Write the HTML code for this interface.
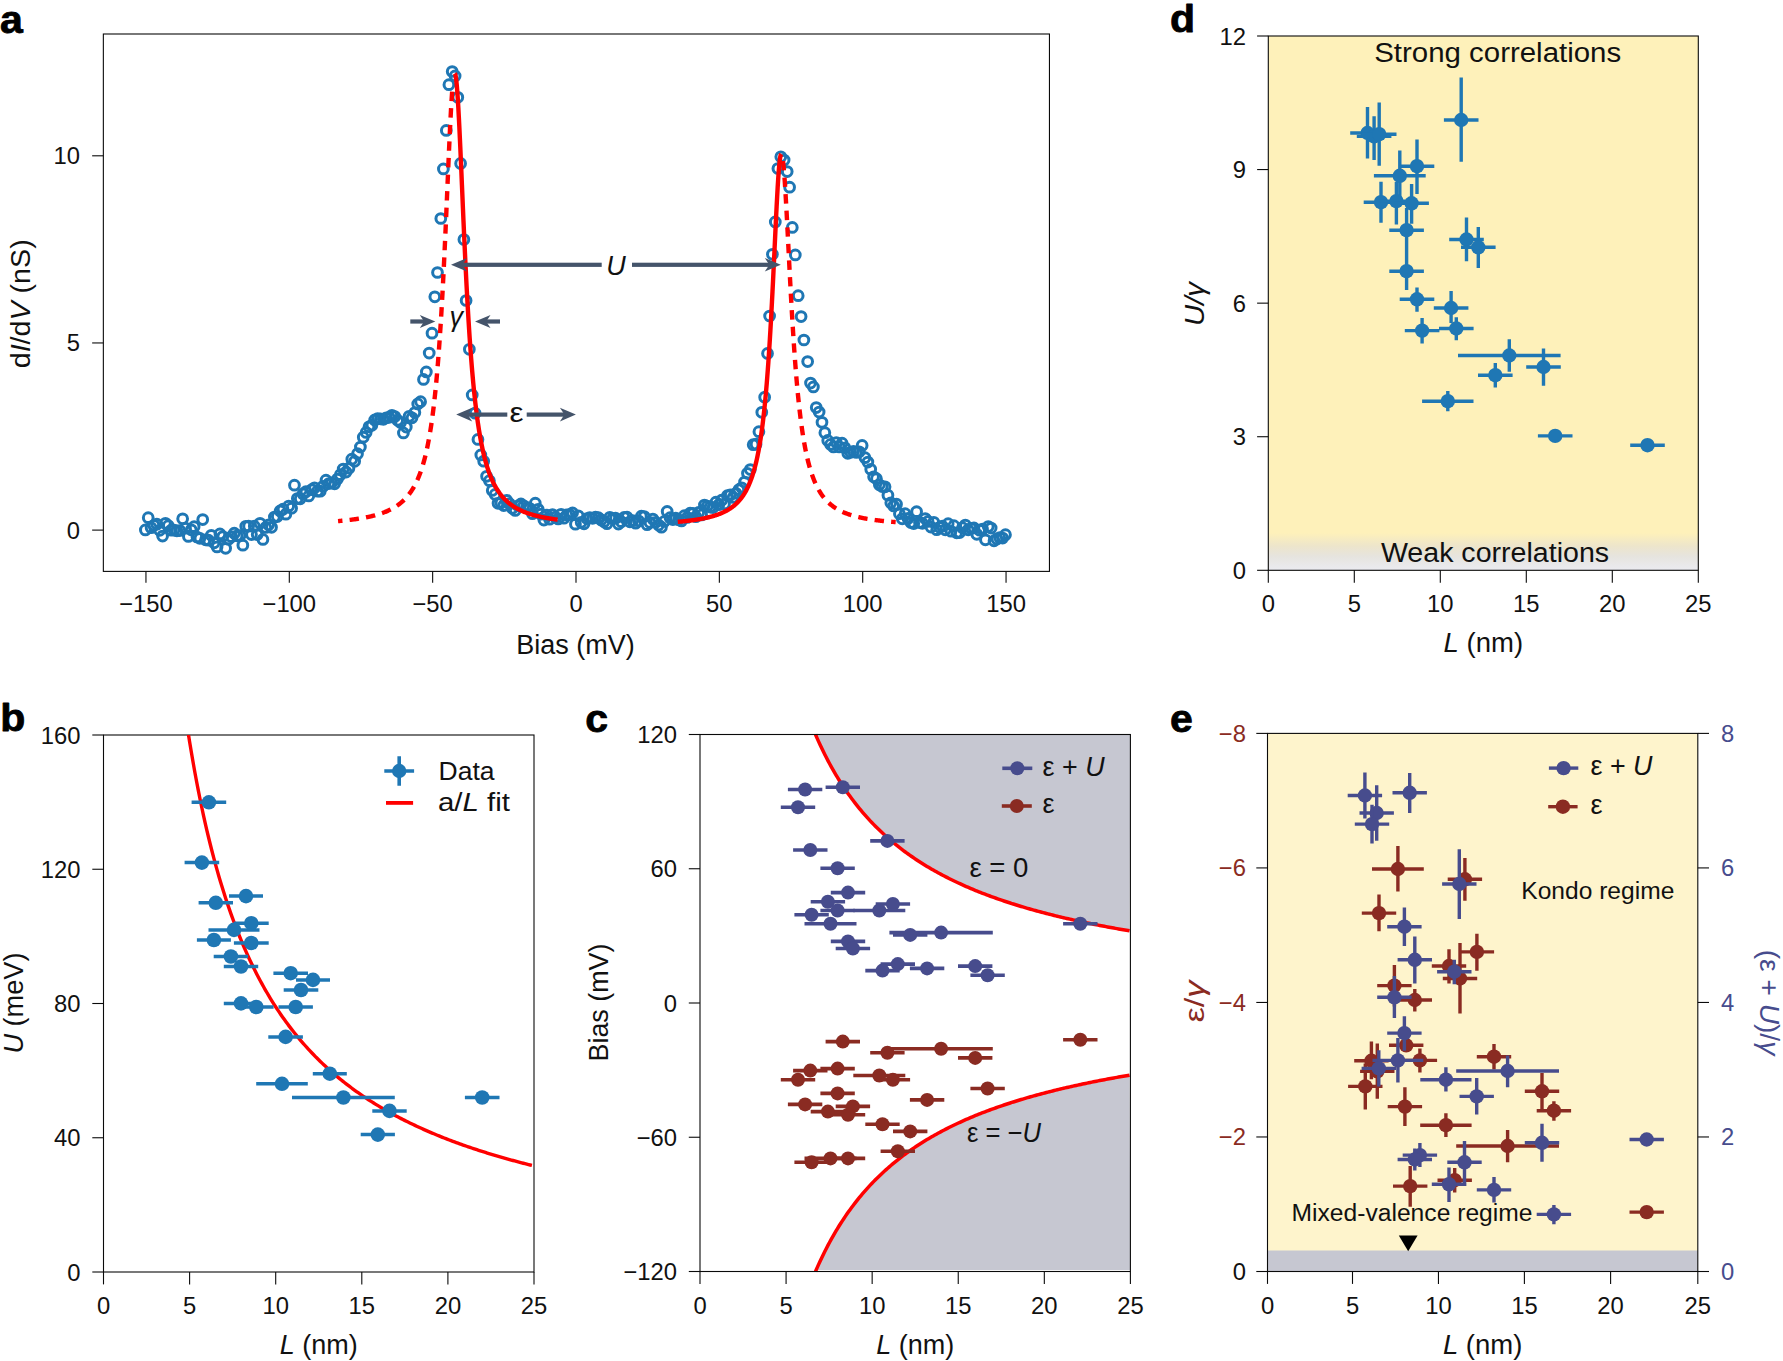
<!DOCTYPE html>
<html lang="en"><head><meta charset="utf-8"><title>Figure</title>
<style>html,body{margin:0;padding:0;background:#fff}svg{display:block}text{font-family:"Liberation Sans", "DejaVu Sans", sans-serif}</style>
</head><body>
<svg width="1783" height="1361" viewBox="0 0 1783 1361">
<rect width="1783" height="1361" fill="#fff"/>
<defs>
<linearGradient id="gd" x1="0" y1="0" x2="0" y2="1"><stop offset="0" stop-color="#fef1ba"/><stop offset="0.35" stop-color="#ede5cb"/><stop offset="0.62" stop-color="#e6e4de"/><stop offset="1" stop-color="#ebebf1"/></linearGradient>
</defs>
<rect x="103.35" y="34" width="946.1" height="537.4" fill="#fff" stroke="#0a0a0a" stroke-width="1.1"/>
<g fill="none" stroke="#1f77b4" stroke-width="3.0">
<circle cx="145.38" cy="529.94" r="4.87"/>
<circle cx="148.24" cy="517.64" r="4.87"/>
<circle cx="151.11" cy="527.73" r="4.87"/>
<circle cx="153.98" cy="525.36" r="4.87"/>
<circle cx="156.84" cy="524.2" r="4.87"/>
<circle cx="159.71" cy="530.33" r="4.87"/>
<circle cx="162.58" cy="536.04" r="4.87"/>
<circle cx="165.45" cy="523.27" r="4.87"/>
<circle cx="168.31" cy="525.64" r="4.87"/>
<circle cx="171.18" cy="530.22" r="4.87"/>
<circle cx="174.05" cy="530.06" r="4.87"/>
<circle cx="176.91" cy="530.83" r="4.87"/>
<circle cx="179.78" cy="530.52" r="4.87"/>
<circle cx="182.65" cy="518.87" r="4.87"/>
<circle cx="185.51" cy="528.17" r="4.87"/>
<circle cx="188.38" cy="536.48" r="4.87"/>
<circle cx="191.25" cy="529.85" r="4.87"/>
<circle cx="194.12" cy="526.74" r="4.87"/>
<circle cx="196.98" cy="537" r="4.87"/>
<circle cx="199.85" cy="538.31" r="4.87"/>
<circle cx="202.72" cy="519.62" r="4.87"/>
<circle cx="205.58" cy="539.8" r="4.87"/>
<circle cx="208.45" cy="540.14" r="4.87"/>
<circle cx="211.32" cy="535.33" r="4.87"/>
<circle cx="214.18" cy="542.79" r="4.87"/>
<circle cx="217.05" cy="546.94" r="4.87"/>
<circle cx="219.92" cy="533.88" r="4.87"/>
<circle cx="222.79" cy="536.61" r="4.87"/>
<circle cx="225.65" cy="548.27" r="4.87"/>
<circle cx="228.52" cy="539.15" r="4.87"/>
<circle cx="231.39" cy="536.73" r="4.87"/>
<circle cx="234.25" cy="533.17" r="4.87"/>
<circle cx="237.12" cy="535.84" r="4.87"/>
<circle cx="239.99" cy="535.59" r="4.87"/>
<circle cx="242.85" cy="545.24" r="4.87"/>
<circle cx="245.72" cy="526.37" r="4.87"/>
<circle cx="248.59" cy="526.19" r="4.87"/>
<circle cx="251.46" cy="534.55" r="4.87"/>
<circle cx="254.32" cy="526.16" r="4.87"/>
<circle cx="257.19" cy="534.55" r="4.87"/>
<circle cx="260.06" cy="523.33" r="4.87"/>
<circle cx="262.92" cy="539.45" r="4.87"/>
<circle cx="265.79" cy="527.49" r="4.87"/>
<circle cx="268.66" cy="524.79" r="4.87"/>
<circle cx="271.52" cy="527.36" r="4.87"/>
<circle cx="274.39" cy="517.05" r="4.87"/>
<circle cx="277.26" cy="516.59" r="4.87"/>
<circle cx="280.13" cy="510.94" r="4.87"/>
<circle cx="282.99" cy="509.2" r="4.87"/>
<circle cx="285.86" cy="514.25" r="4.87"/>
<circle cx="288.73" cy="506.02" r="4.87"/>
<circle cx="291.59" cy="508.23" r="4.87"/>
<circle cx="294.46" cy="485.18" r="4.87"/>
<circle cx="297.33" cy="498.59" r="4.87"/>
<circle cx="300.19" cy="498.87" r="4.87"/>
<circle cx="303.06" cy="493.92" r="4.87"/>
<circle cx="305.93" cy="491.63" r="4.87"/>
<circle cx="308.8" cy="495.96" r="4.87"/>
<circle cx="311.66" cy="489.74" r="4.87"/>
<circle cx="314.53" cy="487.84" r="4.87"/>
<circle cx="317.4" cy="491.24" r="4.87"/>
<circle cx="320.26" cy="491.15" r="4.87"/>
<circle cx="323.13" cy="486.37" r="4.87"/>
<circle cx="326" cy="480.24" r="4.87"/>
<circle cx="328.86" cy="483.54" r="4.87"/>
<circle cx="331.73" cy="482.79" r="4.87"/>
<circle cx="334.6" cy="483.81" r="4.87"/>
<circle cx="337.47" cy="479.06" r="4.87"/>
<circle cx="340.33" cy="474.64" r="4.87"/>
<circle cx="343.2" cy="469.1" r="4.87"/>
<circle cx="346.07" cy="472.08" r="4.87"/>
<circle cx="348.93" cy="468.22" r="4.87"/>
<circle cx="351.8" cy="459.15" r="4.87"/>
<circle cx="354.67" cy="461.31" r="4.87"/>
<circle cx="357.53" cy="453.72" r="4.87"/>
<circle cx="360.4" cy="447.01" r="4.87"/>
<circle cx="363.27" cy="437.24" r="4.87"/>
<circle cx="366.14" cy="432.39" r="4.87"/>
<circle cx="369" cy="426.8" r="4.87"/>
<circle cx="371.87" cy="425.15" r="4.87"/>
<circle cx="374.74" cy="419.96" r="4.87"/>
<circle cx="377.6" cy="418.65" r="4.87"/>
<circle cx="380.47" cy="418.79" r="4.87"/>
<circle cx="383.34" cy="419.31" r="4.87"/>
<circle cx="386.2" cy="417.87" r="4.87"/>
<circle cx="389.07" cy="417.36" r="4.87"/>
<circle cx="391.94" cy="415.33" r="4.87"/>
<circle cx="394.81" cy="416.59" r="4.87"/>
<circle cx="397.67" cy="420.26" r="4.87"/>
<circle cx="400.54" cy="422.51" r="4.87"/>
<circle cx="403.41" cy="432.92" r="4.87"/>
<circle cx="406.27" cy="427.03" r="4.87"/>
<circle cx="409.14" cy="416.29" r="4.87"/>
<circle cx="412.01" cy="417.82" r="4.87"/>
<circle cx="414.87" cy="412.56" r="4.87"/>
<circle cx="417.74" cy="403.92" r="4.87"/>
<circle cx="420.61" cy="401.7" r="4.87"/>
<circle cx="423.48" cy="379.39" r="4.87"/>
<circle cx="426.34" cy="371.88" r="4.87"/>
<circle cx="429.21" cy="353.1" r="4.87"/>
<circle cx="432" cy="333.2" r="4.87"/>
<circle cx="434.8" cy="296.8" r="4.87"/>
<circle cx="437.5" cy="272.5" r="4.87"/>
<circle cx="440.8" cy="218.5" r="4.87"/>
<circle cx="443.4" cy="168.9" r="4.87"/>
<circle cx="446.3" cy="130.4" r="4.87"/>
<circle cx="448.9" cy="84.7" r="4.87"/>
<circle cx="452.2" cy="71.5" r="4.87"/>
<circle cx="455.1" cy="75.9" r="4.87"/>
<circle cx="457.8" cy="97.3" r="4.87"/>
<circle cx="460.6" cy="163.4" r="4.87"/>
<circle cx="463.9" cy="239.5" r="4.87"/>
<circle cx="466.1" cy="300.5" r="4.87"/>
<circle cx="469.35" cy="349.31" r="4.87"/>
<circle cx="472.21" cy="394.98" r="4.87"/>
<circle cx="475.08" cy="413.18" r="4.87"/>
<circle cx="477.95" cy="439.49" r="4.87"/>
<circle cx="480.82" cy="454.92" r="4.87"/>
<circle cx="483.68" cy="461.18" r="4.87"/>
<circle cx="486.55" cy="476.33" r="4.87"/>
<circle cx="489.42" cy="480.63" r="4.87"/>
<circle cx="492.28" cy="490.49" r="4.87"/>
<circle cx="495.15" cy="494.43" r="4.87"/>
<circle cx="498.02" cy="503.33" r="4.87"/>
<circle cx="500.88" cy="502.92" r="4.87"/>
<circle cx="503.75" cy="505.57" r="4.87"/>
<circle cx="506.62" cy="500.35" r="4.87"/>
<circle cx="509.49" cy="503.65" r="4.87"/>
<circle cx="512.35" cy="508.3" r="4.87"/>
<circle cx="515.22" cy="510.47" r="4.87"/>
<circle cx="518.09" cy="505.84" r="4.87"/>
<circle cx="520.95" cy="503.94" r="4.87"/>
<circle cx="523.82" cy="505.85" r="4.87"/>
<circle cx="526.69" cy="507.5" r="4.87"/>
<circle cx="529.55" cy="508.35" r="4.87"/>
<circle cx="532.42" cy="513.7" r="4.87"/>
<circle cx="535.29" cy="503.15" r="4.87"/>
<circle cx="538.16" cy="509.36" r="4.87"/>
<circle cx="541.02" cy="514.21" r="4.87"/>
<circle cx="543.89" cy="520.01" r="4.87"/>
<circle cx="546.76" cy="515.01" r="4.87"/>
<circle cx="549.62" cy="519.2" r="4.87"/>
<circle cx="552.49" cy="514.56" r="4.87"/>
<circle cx="555.36" cy="517.17" r="4.87"/>
<circle cx="558.22" cy="518.97" r="4.87"/>
<circle cx="561.09" cy="514.31" r="4.87"/>
<circle cx="563.96" cy="518.14" r="4.87"/>
<circle cx="566.83" cy="514.96" r="4.87"/>
<circle cx="569.69" cy="514.58" r="4.87"/>
<circle cx="572.56" cy="512.91" r="4.87"/>
<circle cx="575.43" cy="524.2" r="4.87"/>
<circle cx="578.29" cy="515.78" r="4.87"/>
<circle cx="581.16" cy="522.37" r="4.87"/>
<circle cx="584.03" cy="523.8" r="4.87"/>
<circle cx="586.89" cy="518.59" r="4.87"/>
<circle cx="589.76" cy="517.68" r="4.87"/>
<circle cx="592.63" cy="518.34" r="4.87"/>
<circle cx="595.5" cy="517.13" r="4.87"/>
<circle cx="598.36" cy="517.68" r="4.87"/>
<circle cx="601.23" cy="519.91" r="4.87"/>
<circle cx="604.1" cy="521.75" r="4.87"/>
<circle cx="606.96" cy="523.63" r="4.87"/>
<circle cx="609.83" cy="517.33" r="4.87"/>
<circle cx="612.7" cy="518.59" r="4.87"/>
<circle cx="615.56" cy="518.19" r="4.87"/>
<circle cx="618.43" cy="524.08" r="4.87"/>
<circle cx="621.3" cy="521.67" r="4.87"/>
<circle cx="624.17" cy="517.46" r="4.87"/>
<circle cx="627.03" cy="517.17" r="4.87"/>
<circle cx="629.9" cy="521.79" r="4.87"/>
<circle cx="632.77" cy="520.63" r="4.87"/>
<circle cx="635.63" cy="523.19" r="4.87"/>
<circle cx="638.5" cy="520.83" r="4.87"/>
<circle cx="641.37" cy="516.21" r="4.87"/>
<circle cx="644.23" cy="516.51" r="4.87"/>
<circle cx="647.1" cy="524.66" r="4.87"/>
<circle cx="649.97" cy="522.4" r="4.87"/>
<circle cx="652.84" cy="519.03" r="4.87"/>
<circle cx="655.7" cy="522.27" r="4.87"/>
<circle cx="658.57" cy="525.12" r="4.87"/>
<circle cx="661.44" cy="527.15" r="4.87"/>
<circle cx="664.3" cy="521.43" r="4.87"/>
<circle cx="667.17" cy="511.39" r="4.87"/>
<circle cx="670.04" cy="517.72" r="4.87"/>
<circle cx="672.9" cy="519.53" r="4.87"/>
<circle cx="675.77" cy="518.22" r="4.87"/>
<circle cx="678.64" cy="519.8" r="4.87"/>
<circle cx="681.51" cy="520.89" r="4.87"/>
<circle cx="684.37" cy="515.7" r="4.87"/>
<circle cx="687.24" cy="517.4" r="4.87"/>
<circle cx="690.11" cy="513.18" r="4.87"/>
<circle cx="692.97" cy="513.26" r="4.87"/>
<circle cx="695.84" cy="516.69" r="4.87"/>
<circle cx="698.71" cy="512.47" r="4.87"/>
<circle cx="701.57" cy="514.93" r="4.87"/>
<circle cx="704.44" cy="505.01" r="4.87"/>
<circle cx="707.31" cy="506.07" r="4.87"/>
<circle cx="710.18" cy="507.1" r="4.87"/>
<circle cx="713.04" cy="507.62" r="4.87"/>
<circle cx="715.91" cy="502.13" r="4.87"/>
<circle cx="718.78" cy="504.75" r="4.87"/>
<circle cx="721.64" cy="500.18" r="4.87"/>
<circle cx="724.51" cy="503.93" r="4.87"/>
<circle cx="727.38" cy="495.65" r="4.87"/>
<circle cx="730.24" cy="494.96" r="4.87"/>
<circle cx="733.11" cy="497.39" r="4.87"/>
<circle cx="735.98" cy="493.25" r="4.87"/>
<circle cx="738.85" cy="489.67" r="4.87"/>
<circle cx="741.71" cy="487.75" r="4.87"/>
<circle cx="744.58" cy="482" r="4.87"/>
<circle cx="747.45" cy="473.36" r="4.87"/>
<circle cx="750.31" cy="469.56" r="4.87"/>
<circle cx="753.18" cy="444.74" r="4.87"/>
<circle cx="756.05" cy="444.22" r="4.87"/>
<circle cx="758.91" cy="431.69" r="4.87"/>
<circle cx="761.78" cy="412.28" r="4.87"/>
<circle cx="764.65" cy="397.22" r="4.87"/>
<circle cx="767.52" cy="353.43" r="4.87"/>
<circle cx="769.6" cy="316" r="4.87"/>
<circle cx="772.4" cy="254.3" r="4.87"/>
<circle cx="775.3" cy="221.9" r="4.87"/>
<circle cx="777.9" cy="168.5" r="4.87"/>
<circle cx="780.8" cy="156.8" r="4.87"/>
<circle cx="784.1" cy="160.1" r="4.87"/>
<circle cx="787.2" cy="171.6" r="4.87"/>
<circle cx="789.6" cy="187.2" r="4.87"/>
<circle cx="792.3" cy="227.4" r="4.87"/>
<circle cx="795.3" cy="254.9" r="4.87"/>
<circle cx="798.2" cy="295.7" r="4.87"/>
<circle cx="801.1" cy="316.6" r="4.87"/>
<circle cx="803.9" cy="340" r="4.87"/>
<circle cx="807.65" cy="361.56" r="4.87"/>
<circle cx="810.52" cy="383.12" r="4.87"/>
<circle cx="813.39" cy="386.95" r="4.87"/>
<circle cx="816.25" cy="407.51" r="4.87"/>
<circle cx="819.12" cy="412.1" r="4.87"/>
<circle cx="821.99" cy="422.37" r="4.87"/>
<circle cx="824.86" cy="432.65" r="4.87"/>
<circle cx="827.72" cy="440.39" r="4.87"/>
<circle cx="830.59" cy="444.46" r="4.87"/>
<circle cx="833.46" cy="446.93" r="4.87"/>
<circle cx="836.32" cy="442.53" r="4.87"/>
<circle cx="839.19" cy="446.88" r="4.87"/>
<circle cx="842.06" cy="443.13" r="4.87"/>
<circle cx="844.92" cy="447.84" r="4.87"/>
<circle cx="847.79" cy="453.28" r="4.87"/>
<circle cx="850.66" cy="452.29" r="4.87"/>
<circle cx="853.53" cy="451.46" r="4.87"/>
<circle cx="856.39" cy="452.46" r="4.87"/>
<circle cx="859.26" cy="451.82" r="4.87"/>
<circle cx="862.13" cy="445.38" r="4.87"/>
<circle cx="864.99" cy="457.66" r="4.87"/>
<circle cx="867.86" cy="462.09" r="4.87"/>
<circle cx="870.73" cy="469.35" r="4.87"/>
<circle cx="873.59" cy="476.87" r="4.87"/>
<circle cx="876.46" cy="478.71" r="4.87"/>
<circle cx="879.33" cy="484.82" r="4.87"/>
<circle cx="882.2" cy="486.51" r="4.87"/>
<circle cx="885.06" cy="486.82" r="4.87"/>
<circle cx="887.93" cy="495.13" r="4.87"/>
<circle cx="890.8" cy="502.78" r="4.87"/>
<circle cx="893.66" cy="505.97" r="4.87"/>
<circle cx="896.53" cy="504.13" r="4.87"/>
<circle cx="899.4" cy="513.75" r="4.87"/>
<circle cx="902.26" cy="518.87" r="4.87"/>
<circle cx="905.13" cy="513.64" r="4.87"/>
<circle cx="908" cy="518.42" r="4.87"/>
<circle cx="910.87" cy="522.62" r="4.87"/>
<circle cx="913.73" cy="523.61" r="4.87"/>
<circle cx="916.6" cy="511.64" r="4.87"/>
<circle cx="919.47" cy="522.61" r="4.87"/>
<circle cx="922.33" cy="523.33" r="4.87"/>
<circle cx="925.2" cy="518.6" r="4.87"/>
<circle cx="928.07" cy="521.38" r="4.87"/>
<circle cx="930.93" cy="527.05" r="4.87"/>
<circle cx="933.8" cy="522.33" r="4.87"/>
<circle cx="936.67" cy="529.73" r="4.87"/>
<circle cx="939.54" cy="527.35" r="4.87"/>
<circle cx="942.4" cy="526.22" r="4.87"/>
<circle cx="945.27" cy="529.78" r="4.87"/>
<circle cx="948.14" cy="523.73" r="4.87"/>
<circle cx="951" cy="531.25" r="4.87"/>
<circle cx="953.87" cy="525.74" r="4.87"/>
<circle cx="956.74" cy="532.81" r="4.87"/>
<circle cx="959.6" cy="532.62" r="4.87"/>
<circle cx="962.47" cy="527.71" r="4.87"/>
<circle cx="965.34" cy="525.06" r="4.87"/>
<circle cx="968.21" cy="529.79" r="4.87"/>
<circle cx="971.07" cy="528.26" r="4.87"/>
<circle cx="973.94" cy="527.99" r="4.87"/>
<circle cx="976.81" cy="534.35" r="4.87"/>
<circle cx="979.67" cy="530.14" r="4.87"/>
<circle cx="982.54" cy="529.15" r="4.87"/>
<circle cx="985.41" cy="539.83" r="4.87"/>
<circle cx="988.27" cy="526.56" r="4.87"/>
<circle cx="991.14" cy="528.02" r="4.87"/>
<circle cx="994.01" cy="540.84" r="4.87"/>
<circle cx="996.88" cy="538.98" r="4.87"/>
<circle cx="999.74" cy="537.68" r="4.87"/>
<circle cx="1002.61" cy="538.04" r="4.87"/>
<circle cx="1005.48" cy="534.74" r="4.87"/>
</g>
<polyline points="452.15,91.64 451.58,100.05 451,109.71 450.43,120.44 449.86,132.04 449.29,144.32 448.72,157.09 448.15,170.18 447.58,183.45 447.01,196.74 446.44,209.95 445.87,222.98 445.3,235.74 444.73,248.17 444.16,260.22 443.59,271.86 443.02,283.06 442.45,293.8 441.88,304.09 441.31,313.91 440.73,323.27 440.16,332.18 439.59,340.66 439.02,348.71 438.45,356.35 437.88,363.61 437.31,370.49 436.74,377.01 436.17,383.2 435.6,389.06 435.03,394.62 434.46,399.89 433.89,404.89 433.32,409.63 432.75,414.13 432.18,418.4 431.61,422.45 431.04,426.31 430.47,429.97 429.89,433.45 429.32,436.76 428.75,439.91 428.18,442.91 427.61,445.76 427.04,448.49 426.47,451.08 425.9,453.56 425.33,455.92 424.76,458.18 424.19,460.33 423.62,462.39 423.05,464.36 422.48,466.25 421.91,468.06 421.34,469.78 420.77,471.44 420.2,473.03 419.63,474.55 419.05,476.01 418.48,477.41 417.91,478.76 417.34,480.06 416.77,481.3 416.2,482.5 415.63,483.65 415.06,484.76 414.49,485.82 413.92,486.85 413.35,487.84 412.78,488.79 412.21,489.71 411.64,490.6 411.07,491.46 410.5,492.29 409.93,493.09 409.36,493.86 408.79,494.6 408.21,495.32 407.64,496.02 407.07,496.7 406.5,497.35 405.93,497.98 405.36,498.59 404.79,499.19 404.22,499.76 403.65,500.32 403.08,500.86 402.51,501.38 401.94,501.89 401.37,502.38 400.8,502.86 400.23,503.33 399.66,503.78 399.09,504.21 398.52,504.64 397.94,505.05 397.37,505.46 396.8,505.85 396.23,506.23 395.66,506.6 395.09,506.96 394.52,507.31 393.95,507.65 393.38,507.98 392.81,508.31 392.24,508.62 391.67,508.93 391.1,509.23 390.53,509.52 389.96,509.8 389.39,510.08 388.82,510.35 388.25,510.62 387.68,510.87 387.1,511.13 386.53,511.37 385.96,511.61 385.39,511.84 384.82,512.07 384.25,512.3 383.68,512.51 383.11,512.73 382.54,512.94 381.97,513.14 381.4,513.34 380.83,513.53 380.26,513.72 379.69,513.91 379.12,514.09 378.55,514.27 377.98,514.44 377.41,514.61 376.84,514.78 376.26,514.94 375.69,515.1 375.12,515.26 374.55,515.42 373.98,515.57 373.41,515.71 372.84,515.86 372.27,516 371.7,516.14 371.13,516.27 370.56,516.41 369.99,516.54 369.42,516.67 368.85,516.79 368.28,516.91 367.71,517.04 367.14,517.15 366.57,517.27 366,517.38 365.42,517.5 364.85,517.61 364.28,517.71 363.71,517.82 363.14,517.92 362.57,518.03 362,518.13 361.43,518.23 360.86,518.32 360.29,518.42 359.72,518.51 359.15,518.6 358.58,518.69 358.01,518.78 357.44,518.87 356.87,518.95 356.3,519.04 355.73,519.12 355.15,519.2 354.58,519.28 354.01,519.36 353.44,519.44 352.87,519.51 352.3,519.59 351.73,519.66 351.16,519.74 350.59,519.81 350.02,519.88 349.45,519.95 348.88,520.01 348.31,520.08 347.74,520.15 347.17,520.21 346.6,520.28 346.03,520.34 345.46,520.4 344.89,520.46 344.31,520.52 343.74,520.58 343.17,520.64 342.6,520.7 342.03,520.75 341.46,520.81 340.89,520.86 340.32,520.92 339.75,520.97 339.18,521.02 338.61,521.07 338.04,521.12" fill="none" stroke="#ff0000" stroke-width="4.4" stroke-dasharray="9.4 7.2"/>
<polyline points="454.73,73.45 455.24,74.21 455.76,76.45 456.27,80.14 456.78,85.2 457.3,91.55 457.81,99.06 458.33,107.6 458.84,117.05 459.36,127.26 459.87,138.07 460.39,149.37 460.9,161.01 461.42,172.87 461.93,184.85 462.45,196.84 462.96,208.76 463.47,220.54 463.99,232.12 464.5,243.43 465.02,254.46 465.53,265.16 466.05,275.51 466.56,285.5 467.08,295.12 467.59,304.36 468.11,313.23 468.62,321.72 469.14,329.85 469.65,337.62 470.16,345.04 470.68,352.12 471.19,358.88 471.71,365.32 472.22,371.46 472.74,377.31 473.25,382.89 473.77,388.21 474.28,393.28 474.8,398.11 475.31,402.71 475.83,407.1 476.34,411.28 476.85,415.28 477.37,419.09 477.88,422.72 478.4,426.19 478.91,429.51 479.43,432.68 479.94,435.7 480.46,438.6 480.97,441.36 481.49,444.01 482,446.55 482.52,448.98 483.03,451.3 483.54,453.53 484.06,455.67 484.57,457.72 485.09,459.69 485.6,461.58 486.12,463.39 486.63,465.13 487.15,466.81 487.66,468.42 488.18,469.97 488.69,471.46 489.21,472.89 489.72,474.27 490.24,475.6 490.75,476.89 491.26,478.12 491.78,479.31 492.29,480.47 492.81,481.58 493.32,482.65 493.84,483.68 494.35,484.68 494.87,485.65 495.38,486.58 495.9,487.49 496.41,488.36 496.93,489.21 497.44,490.02 497.95,490.82 498.47,491.58 498.98,492.33 499.5,493.05 500.01,493.75 500.53,494.42 501.04,495.08 501.56,495.72 502.07,496.34 502.59,496.94 503.1,497.52 503.62,498.09 504.13,498.64 504.64,499.17 505.16,499.69 505.67,500.2 506.19,500.69 506.7,501.16 507.22,501.63 507.73,502.08 508.25,502.52 508.76,502.95 509.28,503.37 509.79,503.77 510.31,504.17 510.82,504.55 511.33,504.93 511.85,505.3 512.36,505.65 512.88,506 513.39,506.34 513.91,506.67 514.42,507 514.94,507.31 515.45,507.62 515.97,507.92 516.48,508.22 517,508.5 517.51,508.78 518.02,509.06 518.54,509.32 519.05,509.59 519.57,509.84 520.08,510.09 520.6,510.33 521.11,510.57 521.63,510.81 522.14,511.04 522.66,511.26 523.17,511.48 523.69,511.69 524.2,511.9 524.72,512.11 525.23,512.31 525.74,512.5 526.26,512.7 526.77,512.89 527.29,513.07 527.8,513.25 528.32,513.43 528.83,513.6 529.35,513.77 529.86,513.94 530.38,514.1 530.89,514.26 531.41,514.42 531.92,514.58 532.43,514.73 532.95,514.88 533.46,515.02 533.98,515.17 534.49,515.31 535.01,515.44 535.52,515.58 536.04,515.71 536.55,515.84 537.07,515.97 537.58,516.1 538.1,516.22 538.61,516.34 539.12,516.46 539.64,516.58 540.15,516.69 540.67,516.81 541.18,516.92 541.7,517.03 542.21,517.13 542.73,517.24 543.24,517.34 543.76,517.44 544.27,517.54 544.79,517.64 545.3,517.74 545.81,517.83 546.33,517.93 546.84,518.02 547.36,518.11 547.87,518.2 548.39,518.29 548.9,518.37 549.42,518.46 549.93,518.54 550.45,518.63 550.96,518.71 551.48,518.79 551.99,518.86 552.5,518.94 553.02,519.02 553.53,519.09 554.05,519.17 554.56,519.24 555.08,519.31 555.59,519.38 556.11,519.45 556.62,519.52 557.14,519.59 557.65,519.65" fill="none" stroke="#ff0000" stroke-width="4.4" stroke-linejoin="round"/>
<polyline points="677.78,521.84 678.3,521.8 678.81,521.75 679.33,521.7 679.85,521.66 680.37,521.61 680.88,521.56 681.4,521.51 681.92,521.46 682.44,521.41 682.95,521.36 683.47,521.31 683.99,521.25 684.51,521.2 685.02,521.14 685.54,521.09 686.06,521.03 686.58,520.97 687.09,520.92 687.61,520.86 688.13,520.8 688.65,520.73 689.16,520.67 689.68,520.61 690.2,520.54 690.72,520.48 691.23,520.41 691.75,520.34 692.27,520.28 692.79,520.21 693.3,520.13 693.82,520.06 694.34,519.99 694.86,519.91 695.37,519.84 695.89,519.76 696.41,519.68 696.93,519.6 697.44,519.52 697.96,519.43 698.48,519.35 699,519.26 699.51,519.17 700.03,519.08 700.55,518.99 701.07,518.9 701.58,518.8 702.1,518.7 702.62,518.61 703.14,518.5 703.65,518.4 704.17,518.3 704.69,518.19 705.21,518.08 705.72,517.97 706.24,517.86 706.76,517.74 707.28,517.62 707.79,517.5 708.31,517.38 708.83,517.25 709.35,517.13 709.86,516.99 710.38,516.86 710.9,516.72 711.42,516.58 711.93,516.44 712.45,516.3 712.97,516.15 713.49,516 714,515.84 714.52,515.68 715.04,515.52 715.56,515.35 716.07,515.18 716.59,515.01 717.11,514.83 717.63,514.65 718.14,514.46 718.66,514.27 719.18,514.07 719.7,513.87 720.21,513.67 720.73,513.46 721.25,513.24 721.77,513.02 722.28,512.8 722.8,512.56 723.32,512.33 723.84,512.08 724.35,511.83 724.87,511.57 725.39,511.31 725.91,511.04 726.42,510.76 726.94,510.48 727.46,510.18 727.98,509.88 728.49,509.57 729.01,509.25 729.53,508.92 730.05,508.59 730.56,508.24 731.08,507.88 731.6,507.52 732.12,507.14 732.63,506.75 733.15,506.35 733.67,505.93 734.19,505.51 734.7,505.07 735.22,504.61 735.74,504.15 736.26,503.67 736.77,503.17 737.29,502.65 737.81,502.12 738.33,501.57 738.84,501.01 739.36,500.42 739.88,499.82 740.4,499.19 740.91,498.54 741.43,497.87 741.95,497.17 742.47,496.45 742.98,495.71 743.5,494.93 744.02,494.13 744.54,493.3 745.05,492.43 745.57,491.53 746.09,490.6 746.61,489.63 747.12,488.62 747.64,487.58 748.16,486.48 748.68,485.35 749.19,484.17 749.71,482.93 750.23,481.65 750.75,480.31 751.26,478.91 751.78,477.46 752.3,475.93 752.82,474.34 753.33,472.68 753.85,470.94 754.37,469.11 754.89,467.21 755.4,465.21 755.92,463.12 756.44,460.92 756.96,458.62 757.47,456.2 757.99,453.67 758.51,451 759.02,448.2 759.54,445.25 760.06,442.15 760.58,438.89 761.09,435.46 761.61,431.84 762.13,428.03 762.65,424.01 763.16,419.78 763.68,415.31 764.2,410.61 764.72,405.64 765.23,400.4 765.75,394.88 766.27,389.06 766.79,382.92 767.3,376.45 767.82,369.65 768.34,362.48 768.86,354.96 769.37,347.06 769.89,338.79 770.41,330.13 770.93,321.11 771.44,311.71 771.96,301.97 772.48,291.9 773,281.55 773.51,270.95 774.03,260.17 774.55,249.28 775.07,238.37 775.58,227.55 776.1,216.94 776.62,206.66 777.14,196.87 777.65,187.72 778.17,179.36 778.69,171.97 779.21,165.68 779.72,160.63 780.24,156.94 780.76,154.69 781.28,153.93" fill="none" stroke="#ff0000" stroke-width="4.4" stroke-linejoin="round"/>
<polyline points="783,161.04 783.56,166.28 784.12,172.78 784.69,180.4 785.25,188.98 785.81,198.35 786.38,208.36 786.94,218.84 787.5,229.63 788.07,240.62 788.63,251.67 789.19,262.68 789.76,273.56 790.32,284.23 790.88,294.65 791.45,304.76 792.01,314.52 792.57,323.93 793.14,332.95 793.7,341.59 794.26,349.84 794.83,357.7 795.39,365.19 795.95,372.3 796.52,379.06 797.08,385.47 797.64,391.55 798.21,397.32 798.77,402.78 799.33,407.96 799.9,412.86 800.46,417.51 801.03,421.92 801.59,426.09 802.15,430.05 802.72,433.8 803.28,437.37 803.84,440.74 804.41,443.95 804.97,447 805.53,449.9 806.1,452.65 806.66,455.27 807.22,457.76 807.79,460.13 808.35,462.39 808.91,464.54 809.48,466.59 810.04,468.55 810.6,470.42 811.17,472.21 811.73,473.91 812.29,475.54 812.86,477.1 813.42,478.59 813.98,480.02 814.55,481.39 815.11,482.7 815.67,483.96 816.24,485.16 816.8,486.32 817.36,487.43 817.93,488.5 818.49,489.52 819.05,490.51 819.62,491.46 820.18,492.37 820.74,493.25 821.31,494.09 821.87,494.91 822.43,495.69 823,496.45 823.56,497.18 824.12,497.88 824.69,498.56 825.25,499.22 825.81,499.85 826.38,500.46 826.94,501.05 827.5,501.63 828.07,502.18 828.63,502.72 829.19,503.23 829.76,503.74 830.32,504.22 830.88,504.69 831.45,505.15 832.01,505.59 832.57,506.02 833.14,506.44 833.7,506.84 834.26,507.23 834.83,507.61 835.39,507.98 835.95,508.34 836.52,508.69 837.08,509.03 837.64,509.36 838.21,509.67 838.77,509.99 839.33,510.29 839.9,510.58 840.46,510.87 841.02,511.15 841.59,511.42 842.15,511.68 842.71,511.94 843.28,512.19 843.84,512.44 844.4,512.68 844.97,512.91 845.53,513.13 846.09,513.35 846.66,513.57 847.22,513.78 847.78,513.99 848.35,514.19 848.91,514.38 849.47,514.57 850.04,514.76 850.6,514.94 851.16,515.12 851.73,515.29 852.29,515.46 852.85,515.63 853.42,515.79 853.98,515.95 854.54,516.1 855.11,516.25 855.67,516.4 856.23,516.55 856.8,516.69 857.36,516.83 857.93,516.97 858.49,517.1 859.05,517.23 859.62,517.36 860.18,517.48 860.74,517.6 861.31,517.72 861.87,517.84 862.43,517.96 863,518.07 863.56,518.18 864.12,518.29 864.69,518.39 865.25,518.5 865.81,518.6 866.38,518.7 866.94,518.8 867.5,518.9 868.07,518.99 868.63,519.08 869.19,519.17 869.76,519.26 870.32,519.35 870.88,519.44 871.45,519.52 872.01,519.61 872.57,519.69 873.14,519.77 873.7,519.85 874.26,519.92 874.83,520 875.39,520.07 875.95,520.15 876.52,520.22 877.08,520.29 877.64,520.36 878.21,520.43 878.77,520.5 879.33,520.56 879.9,520.63 880.46,520.69 881.02,520.75 881.59,520.82 882.15,520.88 882.71,520.94 883.28,520.99 883.84,521.05 884.4,521.11 884.97,521.17 885.53,521.22 886.09,521.28 886.66,521.33 887.22,521.38 887.78,521.43 888.35,521.48 888.91,521.53 889.47,521.58 890.04,521.63 890.6,521.68 891.16,521.73 891.73,521.77 892.29,521.82 892.85,521.87 893.42,521.91 893.98,521.95 894.54,522 895.11,522.04 895.67,522.08" fill="none" stroke="#ff0000" stroke-width="4.4" stroke-dasharray="9.4 7.2"/>
<g fill="#44546a" stroke="none">
<path d="M451 264.8L467 258L462.5 264.8L467 271.6Z"/>
<path d="M780.8 264.8L764.8 258L769.3 264.8L764.8 271.6Z"/>
<rect x="462" y="262.7" width="139.7" height="4.2"/>
<rect x="632" y="262.7" width="138" height="4.2"/>
<path d="M456.2 414.6L472.2 407.8L467.7 414.6L472.2 421.4Z"/>
<path d="M575.9 414.6L559.9 407.8L564.4 414.6L559.9 421.4Z"/>
<rect x="467" y="412.5" width="40.3" height="4.2"/>
<rect x="526.7" y="412.5" width="38.3" height="4.2"/>
<path d="M435.3 321.5L419.8 314.9L424.1 321.5L419.8 328.1Z"/>
<path d="M475 321.5L490.5 314.9L486.2 321.5L490.5 328.1Z"/>
<rect x="410.3" y="319.4" width="15" height="4.2"/>
<rect x="485" y="319.4" width="15" height="4.2"/>
</g>
<text x="616" y="274.5" font-size="27" text-anchor="middle" fill="#111" font-style="italic">U</text>
<text x="456.3" y="325.5" font-size="27" text-anchor="middle" fill="#111" font-style="italic">γ</text>
<text x="516.6" y="422.3" font-size="28" text-anchor="middle" fill="#111" textLength="14" lengthAdjust="spacingAndGlyphs" >ε</text>
<line x1="145.95" y1="571.4" x2="145.95" y2="582.8" stroke="#0a0a0a" stroke-width="1.1" />
<text x="145.95" y="612.3" font-size="23.8" text-anchor="middle" fill="#111" >−150</text>
<line x1="289.3" y1="571.4" x2="289.3" y2="582.8" stroke="#0a0a0a" stroke-width="1.1" />
<text x="289.3" y="612.3" font-size="23.8" text-anchor="middle" fill="#111" >−100</text>
<line x1="432.65" y1="571.4" x2="432.65" y2="582.8" stroke="#0a0a0a" stroke-width="1.1" />
<text x="432.65" y="612.3" font-size="23.8" text-anchor="middle" fill="#111" >−50</text>
<line x1="576" y1="571.4" x2="576" y2="582.8" stroke="#0a0a0a" stroke-width="1.1" />
<text x="576" y="612.3" font-size="23.8" text-anchor="middle" fill="#111" >0</text>
<line x1="719.35" y1="571.4" x2="719.35" y2="582.8" stroke="#0a0a0a" stroke-width="1.1" />
<text x="719.35" y="612.3" font-size="23.8" text-anchor="middle" fill="#111" >50</text>
<line x1="862.7" y1="571.4" x2="862.7" y2="582.8" stroke="#0a0a0a" stroke-width="1.1" />
<text x="862.7" y="612.3" font-size="23.8" text-anchor="middle" fill="#111" >100</text>
<line x1="1006.05" y1="571.4" x2="1006.05" y2="582.8" stroke="#0a0a0a" stroke-width="1.1" />
<text x="1006.05" y="612.3" font-size="23.8" text-anchor="middle" fill="#111" >150</text>
<line x1="92.15" y1="530.1" x2="103.35" y2="530.1" stroke="#0a0a0a" stroke-width="1.1" />
<text x="80" y="538.6" font-size="23.8" text-anchor="end" fill="#111" >0</text>
<line x1="92.15" y1="342.95" x2="103.35" y2="342.95" stroke="#0a0a0a" stroke-width="1.1" />
<text x="80" y="351.45" font-size="23.8" text-anchor="end" fill="#111" >5</text>
<line x1="92.15" y1="155.8" x2="103.35" y2="155.8" stroke="#0a0a0a" stroke-width="1.1" />
<text x="80" y="164.3" font-size="23.8" text-anchor="end" fill="#111" >10</text>
<text x="575.5" y="653.6" font-size="27" text-anchor="middle" fill="#111" textLength="118.5" lengthAdjust="spacingAndGlyphs" >Bias (mV)</text>
<text transform="translate(30,303.8) rotate(-90)" font-size="27" text-anchor="middle" fill="#111" textLength="129" lengthAdjust="spacingAndGlyphs">d<tspan font-style="italic">I</tspan>/d<tspan font-style="italic">V</tspan> (nS)</text>
<text transform="translate(0,32.8) scale(1.08,1)" font-size="38" font-weight="bold" fill="#000" stroke="#000" stroke-width="0.8" stroke-linejoin="round">a</text>
<rect x="103.5" y="735" width="430.5" height="537" fill="#fff" stroke="#0a0a0a" stroke-width="1.1"/>
<clipPath id="cb"><rect x="103.5" y="735" width="430.5" height="537"/></clipPath>
<polyline clip-path="url(#cb)" points="187.88,730.89 189.6,741.7 191.32,752.09 193.04,762.08 194.76,771.69 196.48,780.95 198.2,789.87 199.92,798.47 201.64,806.77 203.36,814.78 205.08,822.53 206.8,830.01 208.52,837.25 210.24,844.26 211.96,851.04 213.68,857.62 215.4,863.99 217.12,870.16 218.84,876.16 220.56,881.97 222.28,887.62 224,893.11 225.72,898.44 227.44,903.63 229.16,908.67 230.88,913.58 232.61,918.35 234.33,923 236.05,927.53 237.77,931.95 239.49,936.25 241.21,940.44 242.93,944.53 244.65,948.52 246.37,952.42 248.09,956.22 249.81,959.93 251.53,963.56 253.25,967.1 254.97,970.57 256.69,973.95 258.41,977.26 260.13,980.5 261.85,983.67 263.57,986.76 265.29,989.8 267.01,992.77 268.73,995.67 270.45,998.52 272.17,1001.31 273.89,1004.04 275.61,1006.72 277.33,1009.35 279.05,1011.92 280.77,1014.44 282.49,1016.92 284.21,1019.35 285.93,1021.73 287.65,1024.07 289.37,1026.36 291.09,1028.61 292.81,1030.83 294.54,1033 296.26,1035.13 297.98,1037.23 299.7,1039.29 301.42,1041.31 303.14,1043.3 304.86,1045.25 306.58,1047.17 308.3,1049.06 310.02,1050.92 311.74,1052.74 313.46,1054.54 315.18,1056.31 316.9,1058.04 318.62,1059.76 320.34,1061.44 322.06,1063.1 323.78,1064.73 325.5,1066.33 327.22,1067.92 328.94,1069.47 330.66,1071.01 332.38,1072.52 334.1,1074.01 335.82,1075.47 337.54,1076.92 339.26,1078.34 340.98,1079.74 342.7,1081.13 344.42,1082.49 346.14,1083.83 347.86,1085.16 349.58,1086.46 351.3,1087.75 353.02,1089.02 354.74,1090.27 356.47,1091.51 358.19,1092.73 359.91,1093.93 361.63,1095.12 363.35,1096.29 365.07,1097.45 366.79,1098.59 368.51,1099.71 370.23,1100.82 371.95,1101.92 373.67,1103 375.39,1104.07 377.11,1105.13 378.83,1106.17 380.55,1107.2 382.27,1108.22 383.99,1109.22 385.71,1110.21 387.43,1111.19 389.15,1112.16 390.87,1113.12 392.59,1114.06 394.31,1115 396.03,1115.92 397.75,1116.83 399.47,1117.74 401.19,1118.63 402.91,1119.51 404.63,1120.38 406.35,1121.24 408.07,1122.09 409.79,1122.93 411.51,1123.77 413.23,1124.59 414.95,1125.4 416.67,1126.21 418.4,1127.01 420.12,1127.79 421.84,1128.57 423.56,1129.34 425.28,1130.11 427,1130.86 428.72,1131.61 430.44,1132.35 432.16,1133.08 433.88,1133.8 435.6,1134.52 437.32,1135.23 439.04,1135.93 440.76,1136.62 442.48,1137.31 444.2,1137.99 445.92,1138.66 447.64,1139.33 449.36,1139.99 451.08,1140.64 452.8,1141.29 454.52,1141.93 456.24,1142.56 457.96,1143.19 459.68,1143.81 461.4,1144.43 463.12,1145.04 464.84,1145.64 466.56,1146.24 468.28,1146.84 470,1147.42 471.72,1148.01 473.44,1148.58 475.16,1149.15 476.88,1149.72 478.6,1150.28 480.33,1150.84 482.05,1151.39 483.77,1151.93 485.49,1152.47 487.21,1153.01 488.93,1153.54 490.65,1154.07 492.37,1154.59 494.09,1155.1 495.81,1155.62 497.53,1156.13 499.25,1156.63 500.97,1157.13 502.69,1157.62 504.41,1158.11 506.13,1158.6 507.85,1159.08 509.57,1159.56 511.29,1160.04 513.01,1160.51 514.73,1160.97 516.45,1161.44 518.17,1161.89 519.89,1162.35 521.61,1162.8 523.33,1163.25 525.05,1163.69 526.77,1164.13 528.49,1164.57 530.21,1165 531.93,1165.43" fill="none" stroke="#ff0000" stroke-width="3.4"/>
<g stroke="#1f77b4" stroke-width="3.5" fill="#1f77b4"><path d="M191.6 802.3H226.2"/><circle cx="208.9" cy="802.3" r="7.3" stroke="none"/></g>
<g stroke="#1f77b4" stroke-width="3.5" fill="#1f77b4"><path d="M184.6 862.6H219.2"/><circle cx="201.9" cy="862.6" r="7.3" stroke="none"/></g>
<g stroke="#1f77b4" stroke-width="3.5" fill="#1f77b4"><path d="M229 896.1H263"/><circle cx="246" cy="896.1" r="7.3" stroke="none"/></g>
<g stroke="#1f77b4" stroke-width="3.5" fill="#1f77b4"><path d="M198.6 902.8H233"/><circle cx="215.8" cy="902.8" r="7.3" stroke="none"/></g>
<g stroke="#1f77b4" stroke-width="3.5" fill="#1f77b4"><path d="M233.9 923.2H268.7"/><circle cx="251.3" cy="923.2" r="7.3" stroke="none"/></g>
<g stroke="#1f77b4" stroke-width="3.5" fill="#1f77b4"><path d="M208.5 929.9H259.5"/><circle cx="234" cy="929.9" r="7.3" stroke="none"/></g>
<g stroke="#1f77b4" stroke-width="3.5" fill="#1f77b4"><path d="M196.9 940H230.9"/><circle cx="213.9" cy="940" r="7.3" stroke="none"/></g>
<g stroke="#1f77b4" stroke-width="3.5" fill="#1f77b4"><path d="M233.9 943H268.7"/><circle cx="251.3" cy="943" r="7.3" stroke="none"/></g>
<g stroke="#1f77b4" stroke-width="3.5" fill="#1f77b4"><path d="M213.7 956.5H248.1"/><circle cx="230.9" cy="956.5" r="7.3" stroke="none"/></g>
<g stroke="#1f77b4" stroke-width="3.5" fill="#1f77b4"><path d="M223.8 966.5H258.2"/><circle cx="241" cy="966.5" r="7.3" stroke="none"/></g>
<g stroke="#1f77b4" stroke-width="3.5" fill="#1f77b4"><path d="M273.4 973.2H308"/><circle cx="290.7" cy="973.2" r="7.3" stroke="none"/></g>
<g stroke="#1f77b4" stroke-width="3.5" fill="#1f77b4"><path d="M296 979.9H330"/><circle cx="313" cy="979.9" r="7.3" stroke="none"/></g>
<g stroke="#1f77b4" stroke-width="3.5" fill="#1f77b4"><path d="M283.7 990H318.3"/><circle cx="301" cy="990" r="7.3" stroke="none"/></g>
<g stroke="#1f77b4" stroke-width="3.5" fill="#1f77b4"><path d="M223.8 1003.4H258.2"/><circle cx="241" cy="1003.4" r="7.3" stroke="none"/></g>
<g stroke="#1f77b4" stroke-width="3.5" fill="#1f77b4"><path d="M239 1007H273.6"/><circle cx="256.3" cy="1007" r="7.3" stroke="none"/></g>
<g stroke="#1f77b4" stroke-width="3.5" fill="#1f77b4"><path d="M278.5 1007H312.9"/><circle cx="295.7" cy="1007" r="7.3" stroke="none"/></g>
<g stroke="#1f77b4" stroke-width="3.5" fill="#1f77b4"><path d="M268.3 1036.9H302.9"/><circle cx="285.6" cy="1036.9" r="7.3" stroke="none"/></g>
<g stroke="#1f77b4" stroke-width="3.5" fill="#1f77b4"><path d="M312.8 1073.7H346.8"/><circle cx="329.8" cy="1073.7" r="7.3" stroke="none"/></g>
<g stroke="#1f77b4" stroke-width="3.5" fill="#1f77b4"><path d="M256.2 1083.8H307.8"/><circle cx="282" cy="1083.8" r="7.3" stroke="none"/></g>
<g stroke="#1f77b4" stroke-width="3.5" fill="#1f77b4"><path d="M292 1097.5H394.8"/><circle cx="343.4" cy="1097.5" r="7.3" stroke="none"/></g>
<g stroke="#1f77b4" stroke-width="3.5" fill="#1f77b4"><path d="M464.9 1097.5H499.5"/><circle cx="482.2" cy="1097.5" r="7.3" stroke="none"/></g>
<g stroke="#1f77b4" stroke-width="3.5" fill="#1f77b4"><path d="M372.3 1110.9H406.7"/><circle cx="389.5" cy="1110.9" r="7.3" stroke="none"/></g>
<g stroke="#1f77b4" stroke-width="3.5" fill="#1f77b4"><path d="M360.7 1134.6H394.9"/><circle cx="377.8" cy="1134.6" r="7.3" stroke="none"/></g>
<g stroke="#1f77b4" stroke-width="3.6" fill="#1f77b4"><path d="M384.3 771H414.1M399.2 756.2V785.8"/><circle cx="399.2" cy="771" r="7.2" stroke="none"/></g>
<text x="438.5" y="780" font-size="26.3" text-anchor="start" fill="#111" textLength="56" lengthAdjust="spacingAndGlyphs" >Data</text>
<line x1="386" y1="802.9" x2="413.1" y2="802.9" stroke="#ff0000" stroke-width="3.8" />
<text x="438" y="811.2" font-size="26.3" fill="#111" textLength="72" lengthAdjust="spacingAndGlyphs">a/<tspan font-style="italic">L</tspan> fit</text>
<line x1="103.5" y1="1272" x2="103.5" y2="1284.4" stroke="#0a0a0a" stroke-width="1.1" />
<text x="103.5" y="1313.9" font-size="23.8" text-anchor="middle" fill="#111" >0</text>
<line x1="189.6" y1="1272" x2="189.6" y2="1284.4" stroke="#0a0a0a" stroke-width="1.1" />
<text x="189.6" y="1313.9" font-size="23.8" text-anchor="middle" fill="#111" >5</text>
<line x1="275.7" y1="1272" x2="275.7" y2="1284.4" stroke="#0a0a0a" stroke-width="1.1" />
<text x="275.7" y="1313.9" font-size="23.8" text-anchor="middle" fill="#111" >10</text>
<line x1="361.8" y1="1272" x2="361.8" y2="1284.4" stroke="#0a0a0a" stroke-width="1.1" />
<text x="361.8" y="1313.9" font-size="23.8" text-anchor="middle" fill="#111" >15</text>
<line x1="447.9" y1="1272" x2="447.9" y2="1284.4" stroke="#0a0a0a" stroke-width="1.1" />
<text x="447.9" y="1313.9" font-size="23.8" text-anchor="middle" fill="#111" >20</text>
<line x1="534" y1="1272" x2="534" y2="1284.4" stroke="#0a0a0a" stroke-width="1.1" />
<text x="534" y="1313.9" font-size="23.8" text-anchor="middle" fill="#111" >25</text>
<line x1="92.3" y1="1272" x2="103.5" y2="1272" stroke="#0a0a0a" stroke-width="1.1" />
<text x="80.5" y="1280.5" font-size="23.8" text-anchor="end" fill="#111" >0</text>
<line x1="92.3" y1="1137.75" x2="103.5" y2="1137.75" stroke="#0a0a0a" stroke-width="1.1" />
<text x="80.5" y="1146.25" font-size="23.8" text-anchor="end" fill="#111" >40</text>
<line x1="92.3" y1="1003.5" x2="103.5" y2="1003.5" stroke="#0a0a0a" stroke-width="1.1" />
<text x="80.5" y="1012" font-size="23.8" text-anchor="end" fill="#111" >80</text>
<line x1="92.3" y1="869.25" x2="103.5" y2="869.25" stroke="#0a0a0a" stroke-width="1.1" />
<text x="80.5" y="877.75" font-size="23.8" text-anchor="end" fill="#111" >120</text>
<line x1="92.3" y1="735" x2="103.5" y2="735" stroke="#0a0a0a" stroke-width="1.1" />
<text x="80.5" y="743.5" font-size="23.8" text-anchor="end" fill="#111" >160</text>
<text x="318.75" y="1353.9" font-size="27" text-anchor="middle" fill="#111" textLength="78" lengthAdjust="spacingAndGlyphs"><tspan font-style="italic">L</tspan> (nm)</text>
<text transform="translate(23.4,1003.1) rotate(-90)" font-size="27" text-anchor="middle" fill="#111" textLength="101" lengthAdjust="spacingAndGlyphs"><tspan font-style="italic">U</tspan> (meV)</text>
<text transform="translate(0.3,731.4) scale(1.08,1)" font-size="38" font-weight="bold" fill="#000" stroke="#000" stroke-width="0.8" stroke-linejoin="round">b</text>
<rect x="700" y="734.5" width="430.4" height="537" fill="#fff"/>
<path d="M815.49 734.5 L817.06 738.1 L818.63 741.61 L820.2 745.02 L821.77 748.35 L823.34 751.59 L824.91 754.75 L826.48 757.83 L828.05 760.84 L829.62 763.77 L831.19 766.64 L832.76 769.43 L834.33 772.16 L835.9 774.83 L837.47 777.44 L839.04 779.98 L840.61 782.47 L842.18 784.91 L843.76 787.29 L845.33 789.62 L846.9 791.9 L848.47 794.14 L850.04 796.32 L851.61 798.46 L853.18 800.56 L854.75 802.61 L856.32 804.63 L857.89 806.6 L859.46 808.53 L861.03 810.43 L862.6 812.29 L864.17 814.11 L865.74 815.9 L867.31 817.66 L868.88 819.38 L870.45 821.07 L872.02 822.73 L873.59 824.36 L875.16 825.97 L876.73 827.54 L878.3 829.08 L879.87 830.6 L881.44 832.09 L883.01 833.56 L884.58 835 L886.15 836.42 L887.72 837.81 L889.29 839.18 L890.86 840.53 L892.43 841.86 L894 843.16 L895.57 844.44 L897.14 845.71 L898.71 846.95 L900.28 848.17 L901.85 849.38 L903.42 850.56 L904.99 851.73 L906.56 852.88 L908.13 854.01 L909.71 855.13 L911.28 856.23 L912.85 857.31 L914.42 858.38 L915.99 859.43 L917.56 860.47 L919.13 861.49 L920.7 862.49 L922.27 863.49 L923.84 864.47 L925.41 865.43 L926.98 866.38 L928.55 867.32 L930.12 868.25 L931.69 869.16 L933.26 870.06 L934.83 870.95 L936.4 871.83 L937.97 872.69 L939.54 873.55 L941.11 874.39 L942.68 875.22 L944.25 876.04 L945.82 876.85 L947.39 877.65 L948.96 878.45 L950.53 879.23 L952.1 880 L953.67 880.76 L955.24 881.51 L956.81 882.25 L958.38 882.99 L959.95 883.71 L961.52 884.43 L963.09 885.14 L964.66 885.84 L966.23 886.53 L967.8 887.21 L969.37 887.88 L970.94 888.55 L972.51 889.21 L974.09 889.86 L975.66 890.51 L977.23 891.14 L978.8 891.77 L980.37 892.4 L981.94 893.01 L983.51 893.62 L985.08 894.22 L986.65 894.82 L988.22 895.41 L989.79 895.99 L991.36 896.57 L992.93 897.14 L994.5 897.7 L996.07 898.26 L997.64 898.82 L999.21 899.36 L1000.78 899.9 L1002.35 900.44 L1003.92 900.97 L1005.49 901.49 L1007.06 902.01 L1008.63 902.53 L1010.2 903.03 L1011.77 903.54 L1013.34 904.04 L1014.91 904.53 L1016.48 905.02 L1018.05 905.5 L1019.62 905.98 L1021.19 906.46 L1022.76 906.93 L1024.33 907.39 L1025.9 907.85 L1027.47 908.31 L1029.04 908.76 L1030.61 909.21 L1032.18 909.65 L1033.75 910.09 L1035.32 910.52 L1036.89 910.96 L1038.47 911.38 L1040.04 911.81 L1041.61 912.23 L1043.18 912.64 L1044.75 913.05 L1046.32 913.46 L1047.89 913.86 L1049.46 914.26 L1051.03 914.66 L1052.6 915.05 L1054.17 915.44 L1055.74 915.83 L1057.31 916.21 L1058.88 916.59 L1060.45 916.97 L1062.02 917.34 L1063.59 917.71 L1065.16 918.08 L1066.73 918.44 L1068.3 918.8 L1069.87 919.16 L1071.44 919.52 L1073.01 919.87 L1074.58 920.22 L1076.15 920.56 L1077.72 920.9 L1079.29 921.24 L1080.86 921.58 L1082.43 921.92 L1084 922.25 L1085.57 922.58 L1087.14 922.9 L1088.71 923.23 L1090.28 923.55 L1091.85 923.87 L1093.42 924.18 L1094.99 924.49 L1096.56 924.81 L1098.13 925.11 L1099.7 925.42 L1101.27 925.72 L1102.85 926.02 L1104.42 926.32 L1105.99 926.62 L1107.56 926.91 L1109.13 927.21 L1110.7 927.5 L1112.27 927.78 L1113.84 928.07 L1115.41 928.35 L1116.98 928.63 L1118.55 928.91 L1120.12 929.19 L1121.69 929.46 L1123.26 929.74 L1124.83 930.01 L1126.4 930.28 L1127.97 930.54 L1129.54 930.81 L1130.4 734.5 L815.49 734.5Z" fill="#c6c7d1"/>
<path d="M815.49 1271.5 L817.06 1267.9 L818.63 1264.39 L820.2 1260.98 L821.77 1257.65 L823.34 1254.41 L824.91 1251.25 L826.48 1248.17 L828.05 1245.16 L829.62 1242.23 L831.19 1239.36 L832.76 1236.57 L834.33 1233.84 L835.9 1231.17 L837.47 1228.56 L839.04 1226.02 L840.61 1223.53 L842.18 1221.09 L843.76 1218.71 L845.33 1216.38 L846.9 1214.1 L848.47 1211.86 L850.04 1209.68 L851.61 1207.54 L853.18 1205.44 L854.75 1203.39 L856.32 1201.37 L857.89 1199.4 L859.46 1197.47 L861.03 1195.57 L862.6 1193.71 L864.17 1191.89 L865.74 1190.1 L867.31 1188.34 L868.88 1186.62 L870.45 1184.93 L872.02 1183.27 L873.59 1181.64 L875.16 1180.03 L876.73 1178.46 L878.3 1176.92 L879.87 1175.4 L881.44 1173.91 L883.01 1172.44 L884.58 1171 L886.15 1169.58 L887.72 1168.19 L889.29 1166.82 L890.86 1165.47 L892.43 1164.14 L894 1162.84 L895.57 1161.56 L897.14 1160.29 L898.71 1159.05 L900.28 1157.83 L901.85 1156.62 L903.42 1155.44 L904.99 1154.27 L906.56 1153.12 L908.13 1151.99 L909.71 1150.87 L911.28 1149.77 L912.85 1148.69 L914.42 1147.62 L915.99 1146.57 L917.56 1145.53 L919.13 1144.51 L920.7 1143.51 L922.27 1142.51 L923.84 1141.53 L925.41 1140.57 L926.98 1139.62 L928.55 1138.68 L930.12 1137.75 L931.69 1136.84 L933.26 1135.94 L934.83 1135.05 L936.4 1134.17 L937.97 1133.31 L939.54 1132.45 L941.11 1131.61 L942.68 1130.78 L944.25 1129.96 L945.82 1129.15 L947.39 1128.35 L948.96 1127.55 L950.53 1126.77 L952.1 1126 L953.67 1125.24 L955.24 1124.49 L956.81 1123.75 L958.38 1123.01 L959.95 1122.29 L961.52 1121.57 L963.09 1120.86 L964.66 1120.16 L966.23 1119.47 L967.8 1118.79 L969.37 1118.12 L970.94 1117.45 L972.51 1116.79 L974.09 1116.14 L975.66 1115.49 L977.23 1114.86 L978.8 1114.23 L980.37 1113.6 L981.94 1112.99 L983.51 1112.38 L985.08 1111.78 L986.65 1111.18 L988.22 1110.59 L989.79 1110.01 L991.36 1109.43 L992.93 1108.86 L994.5 1108.3 L996.07 1107.74 L997.64 1107.18 L999.21 1106.64 L1000.78 1106.1 L1002.35 1105.56 L1003.92 1105.03 L1005.49 1104.51 L1007.06 1103.99 L1008.63 1103.47 L1010.2 1102.97 L1011.77 1102.46 L1013.34 1101.96 L1014.91 1101.47 L1016.48 1100.98 L1018.05 1100.5 L1019.62 1100.02 L1021.19 1099.54 L1022.76 1099.07 L1024.33 1098.61 L1025.9 1098.15 L1027.47 1097.69 L1029.04 1097.24 L1030.61 1096.79 L1032.18 1096.35 L1033.75 1095.91 L1035.32 1095.48 L1036.89 1095.04 L1038.47 1094.62 L1040.04 1094.19 L1041.61 1093.77 L1043.18 1093.36 L1044.75 1092.95 L1046.32 1092.54 L1047.89 1092.14 L1049.46 1091.74 L1051.03 1091.34 L1052.6 1090.95 L1054.17 1090.56 L1055.74 1090.17 L1057.31 1089.79 L1058.88 1089.41 L1060.45 1089.03 L1062.02 1088.66 L1063.59 1088.29 L1065.16 1087.92 L1066.73 1087.56 L1068.3 1087.2 L1069.87 1086.84 L1071.44 1086.48 L1073.01 1086.13 L1074.58 1085.78 L1076.15 1085.44 L1077.72 1085.1 L1079.29 1084.76 L1080.86 1084.42 L1082.43 1084.08 L1084 1083.75 L1085.57 1083.42 L1087.14 1083.1 L1088.71 1082.77 L1090.28 1082.45 L1091.85 1082.13 L1093.42 1081.82 L1094.99 1081.51 L1096.56 1081.19 L1098.13 1080.89 L1099.7 1080.58 L1101.27 1080.28 L1102.85 1079.98 L1104.42 1079.68 L1105.99 1079.38 L1107.56 1079.09 L1109.13 1078.79 L1110.7 1078.5 L1112.27 1078.22 L1113.84 1077.93 L1115.41 1077.65 L1116.98 1077.37 L1118.55 1077.09 L1120.12 1076.81 L1121.69 1076.54 L1123.26 1076.26 L1124.83 1075.99 L1126.4 1075.72 L1127.97 1075.46 L1129.54 1075.19 L1130.4 1270 L815.49 1270Z" fill="#c6c7d1"/>
<polyline points="815.49,734.5 817.06,738.1 818.63,741.61 820.2,745.02 821.77,748.35 823.34,751.59 824.91,754.75 826.48,757.83 828.05,760.84 829.62,763.77 831.19,766.64 832.76,769.43 834.33,772.16 835.9,774.83 837.47,777.44 839.04,779.98 840.61,782.47 842.18,784.91 843.76,787.29 845.33,789.62 846.9,791.9 848.47,794.14 850.04,796.32 851.61,798.46 853.18,800.56 854.75,802.61 856.32,804.63 857.89,806.6 859.46,808.53 861.03,810.43 862.6,812.29 864.17,814.11 865.74,815.9 867.31,817.66 868.88,819.38 870.45,821.07 872.02,822.73 873.59,824.36 875.16,825.97 876.73,827.54 878.3,829.08 879.87,830.6 881.44,832.09 883.01,833.56 884.58,835 886.15,836.42 887.72,837.81 889.29,839.18 890.86,840.53 892.43,841.86 894,843.16 895.57,844.44 897.14,845.71 898.71,846.95 900.28,848.17 901.85,849.38 903.42,850.56 904.99,851.73 906.56,852.88 908.13,854.01 909.71,855.13 911.28,856.23 912.85,857.31 914.42,858.38 915.99,859.43 917.56,860.47 919.13,861.49 920.7,862.49 922.27,863.49 923.84,864.47 925.41,865.43 926.98,866.38 928.55,867.32 930.12,868.25 931.69,869.16 933.26,870.06 934.83,870.95 936.4,871.83 937.97,872.69 939.54,873.55 941.11,874.39 942.68,875.22 944.25,876.04 945.82,876.85 947.39,877.65 948.96,878.45 950.53,879.23 952.1,880 953.67,880.76 955.24,881.51 956.81,882.25 958.38,882.99 959.95,883.71 961.52,884.43 963.09,885.14 964.66,885.84 966.23,886.53 967.8,887.21 969.37,887.88 970.94,888.55 972.51,889.21 974.09,889.86 975.66,890.51 977.23,891.14 978.8,891.77 980.37,892.4 981.94,893.01 983.51,893.62 985.08,894.22 986.65,894.82 988.22,895.41 989.79,895.99 991.36,896.57 992.93,897.14 994.5,897.7 996.07,898.26 997.64,898.82 999.21,899.36 1000.78,899.9 1002.35,900.44 1003.92,900.97 1005.49,901.49 1007.06,902.01 1008.63,902.53 1010.2,903.03 1011.77,903.54 1013.34,904.04 1014.91,904.53 1016.48,905.02 1018.05,905.5 1019.62,905.98 1021.19,906.46 1022.76,906.93 1024.33,907.39 1025.9,907.85 1027.47,908.31 1029.04,908.76 1030.61,909.21 1032.18,909.65 1033.75,910.09 1035.32,910.52 1036.89,910.96 1038.47,911.38 1040.04,911.81 1041.61,912.23 1043.18,912.64 1044.75,913.05 1046.32,913.46 1047.89,913.86 1049.46,914.26 1051.03,914.66 1052.6,915.05 1054.17,915.44 1055.74,915.83 1057.31,916.21 1058.88,916.59 1060.45,916.97 1062.02,917.34 1063.59,917.71 1065.16,918.08 1066.73,918.44 1068.3,918.8 1069.87,919.16 1071.44,919.52 1073.01,919.87 1074.58,920.22 1076.15,920.56 1077.72,920.9 1079.29,921.24 1080.86,921.58 1082.43,921.92 1084,922.25 1085.57,922.58 1087.14,922.9 1088.71,923.23 1090.28,923.55 1091.85,923.87 1093.42,924.18 1094.99,924.49 1096.56,924.81 1098.13,925.11 1099.7,925.42 1101.27,925.72 1102.85,926.02 1104.42,926.32 1105.99,926.62 1107.56,926.91 1109.13,927.21 1110.7,927.5 1112.27,927.78 1113.84,928.07 1115.41,928.35 1116.98,928.63 1118.55,928.91 1120.12,929.19 1121.69,929.46 1123.26,929.74 1124.83,930.01 1126.4,930.28 1127.97,930.54 1129.54,930.81" fill="none" stroke="#ff0000" stroke-width="3.5"/>
<polyline points="815.49,1271.5 817.06,1267.9 818.63,1264.39 820.2,1260.98 821.77,1257.65 823.34,1254.41 824.91,1251.25 826.48,1248.17 828.05,1245.16 829.62,1242.23 831.19,1239.36 832.76,1236.57 834.33,1233.84 835.9,1231.17 837.47,1228.56 839.04,1226.02 840.61,1223.53 842.18,1221.09 843.76,1218.71 845.33,1216.38 846.9,1214.1 848.47,1211.86 850.04,1209.68 851.61,1207.54 853.18,1205.44 854.75,1203.39 856.32,1201.37 857.89,1199.4 859.46,1197.47 861.03,1195.57 862.6,1193.71 864.17,1191.89 865.74,1190.1 867.31,1188.34 868.88,1186.62 870.45,1184.93 872.02,1183.27 873.59,1181.64 875.16,1180.03 876.73,1178.46 878.3,1176.92 879.87,1175.4 881.44,1173.91 883.01,1172.44 884.58,1171 886.15,1169.58 887.72,1168.19 889.29,1166.82 890.86,1165.47 892.43,1164.14 894,1162.84 895.57,1161.56 897.14,1160.29 898.71,1159.05 900.28,1157.83 901.85,1156.62 903.42,1155.44 904.99,1154.27 906.56,1153.12 908.13,1151.99 909.71,1150.87 911.28,1149.77 912.85,1148.69 914.42,1147.62 915.99,1146.57 917.56,1145.53 919.13,1144.51 920.7,1143.51 922.27,1142.51 923.84,1141.53 925.41,1140.57 926.98,1139.62 928.55,1138.68 930.12,1137.75 931.69,1136.84 933.26,1135.94 934.83,1135.05 936.4,1134.17 937.97,1133.31 939.54,1132.45 941.11,1131.61 942.68,1130.78 944.25,1129.96 945.82,1129.15 947.39,1128.35 948.96,1127.55 950.53,1126.77 952.1,1126 953.67,1125.24 955.24,1124.49 956.81,1123.75 958.38,1123.01 959.95,1122.29 961.52,1121.57 963.09,1120.86 964.66,1120.16 966.23,1119.47 967.8,1118.79 969.37,1118.12 970.94,1117.45 972.51,1116.79 974.09,1116.14 975.66,1115.49 977.23,1114.86 978.8,1114.23 980.37,1113.6 981.94,1112.99 983.51,1112.38 985.08,1111.78 986.65,1111.18 988.22,1110.59 989.79,1110.01 991.36,1109.43 992.93,1108.86 994.5,1108.3 996.07,1107.74 997.64,1107.18 999.21,1106.64 1000.78,1106.1 1002.35,1105.56 1003.92,1105.03 1005.49,1104.51 1007.06,1103.99 1008.63,1103.47 1010.2,1102.97 1011.77,1102.46 1013.34,1101.96 1014.91,1101.47 1016.48,1100.98 1018.05,1100.5 1019.62,1100.02 1021.19,1099.54 1022.76,1099.07 1024.33,1098.61 1025.9,1098.15 1027.47,1097.69 1029.04,1097.24 1030.61,1096.79 1032.18,1096.35 1033.75,1095.91 1035.32,1095.48 1036.89,1095.04 1038.47,1094.62 1040.04,1094.19 1041.61,1093.77 1043.18,1093.36 1044.75,1092.95 1046.32,1092.54 1047.89,1092.14 1049.46,1091.74 1051.03,1091.34 1052.6,1090.95 1054.17,1090.56 1055.74,1090.17 1057.31,1089.79 1058.88,1089.41 1060.45,1089.03 1062.02,1088.66 1063.59,1088.29 1065.16,1087.92 1066.73,1087.56 1068.3,1087.2 1069.87,1086.84 1071.44,1086.48 1073.01,1086.13 1074.58,1085.78 1076.15,1085.44 1077.72,1085.1 1079.29,1084.76 1080.86,1084.42 1082.43,1084.08 1084,1083.75 1085.57,1083.42 1087.14,1083.1 1088.71,1082.77 1090.28,1082.45 1091.85,1082.13 1093.42,1081.82 1094.99,1081.51 1096.56,1081.19 1098.13,1080.89 1099.7,1080.58 1101.27,1080.28 1102.85,1079.98 1104.42,1079.68 1105.99,1079.38 1107.56,1079.09 1109.13,1078.79 1110.7,1078.5 1112.27,1078.22 1113.84,1077.93 1115.41,1077.65 1116.98,1077.37 1118.55,1077.09 1120.12,1076.81 1121.69,1076.54 1123.26,1076.26 1124.83,1075.99 1126.4,1075.72 1127.97,1075.46 1129.54,1075.19" fill="none" stroke="#ff0000" stroke-width="3.5"/>
<rect x="700" y="734.5" width="430.4" height="537" fill="none" stroke="#0a0a0a" stroke-width="1.1"/>
<g stroke="#474c8d" stroke-width="3.6" fill="#474c8d"><path d="M787.9 789.5H822.3"/><circle cx="805.1" cy="789.5" r="7" stroke="none"/></g>
<g stroke="#474c8d" stroke-width="3.6" fill="#474c8d"><path d="M825.6 787.2H860"/><circle cx="842.8" cy="787.2" r="7" stroke="none"/></g>
<g stroke="#474c8d" stroke-width="3.6" fill="#474c8d"><path d="M780.8 807.3H815.2"/><circle cx="798" cy="807.3" r="7" stroke="none"/></g>
<g stroke="#474c8d" stroke-width="3.6" fill="#474c8d"><path d="M870.2 840.9H904.6"/><circle cx="887.4" cy="840.9" r="7" stroke="none"/></g>
<g stroke="#474c8d" stroke-width="3.6" fill="#474c8d"><path d="M793.1 850H827.5"/><circle cx="810.3" cy="850" r="7" stroke="none"/></g>
<g stroke="#474c8d" stroke-width="3.6" fill="#474c8d"><path d="M820.4 868.2H854.8"/><circle cx="837.6" cy="868.2" r="7" stroke="none"/></g>
<g stroke="#474c8d" stroke-width="3.6" fill="#474c8d"><path d="M830.8 892.6H865.2"/><circle cx="848" cy="892.6" r="7" stroke="none"/></g>
<g stroke="#474c8d" stroke-width="3.6" fill="#474c8d"><path d="M810.7 901.7H845.1"/><circle cx="827.9" cy="901.7" r="7" stroke="none"/></g>
<g stroke="#474c8d" stroke-width="3.6" fill="#474c8d"><path d="M875.7 904H910.1"/><circle cx="892.9" cy="904" r="7" stroke="none"/></g>
<g stroke="#474c8d" stroke-width="3.6" fill="#474c8d"><path d="M820.4 910.5H854.8"/><circle cx="837.6" cy="910.5" r="7" stroke="none"/></g>
<g stroke="#474c8d" stroke-width="3.6" fill="#474c8d"><path d="M853.3 910.5H905.3"/><circle cx="879.3" cy="910.5" r="7" stroke="none"/></g>
<g stroke="#474c8d" stroke-width="3.6" fill="#474c8d"><path d="M794.4 914.7H828.8"/><circle cx="811.6" cy="914.7" r="7" stroke="none"/></g>
<g stroke="#474c8d" stroke-width="3.6" fill="#474c8d"><path d="M804.5 923.8H856.5"/><circle cx="830.5" cy="923.8" r="7" stroke="none"/></g>
<g stroke="#474c8d" stroke-width="3.6" fill="#474c8d"><path d="M893 934.9H927.4"/><circle cx="910.2" cy="934.9" r="7" stroke="none"/></g>
<g stroke="#474c8d" stroke-width="3.6" fill="#474c8d"><path d="M889.4 932.6H992.8"/><circle cx="941.1" cy="932.6" r="7" stroke="none"/></g>
<g stroke="#474c8d" stroke-width="3.6" fill="#474c8d"><path d="M830.8 941.4H865.2"/><circle cx="848" cy="941.4" r="7" stroke="none"/></g>
<g stroke="#474c8d" stroke-width="3.6" fill="#474c8d"><path d="M835.7 948.5H870.1"/><circle cx="852.9" cy="948.5" r="7" stroke="none"/></g>
<g stroke="#474c8d" stroke-width="3.6" fill="#474c8d"><path d="M880.6 964.1H915"/><circle cx="897.8" cy="964.1" r="7" stroke="none"/></g>
<g stroke="#474c8d" stroke-width="3.6" fill="#474c8d"><path d="M865.3 970.6H899.7"/><circle cx="882.5" cy="970.6" r="7" stroke="none"/></g>
<g stroke="#474c8d" stroke-width="3.6" fill="#474c8d"><path d="M909.9 968.4H944.3"/><circle cx="927.1" cy="968.4" r="7" stroke="none"/></g>
<g stroke="#474c8d" stroke-width="3.6" fill="#474c8d"><path d="M958 966.1H992.4"/><circle cx="975.2" cy="966.1" r="7" stroke="none"/></g>
<g stroke="#474c8d" stroke-width="3.6" fill="#474c8d"><path d="M970.4 975.2H1004.8"/><circle cx="987.6" cy="975.2" r="7" stroke="none"/></g>
<g stroke="#474c8d" stroke-width="3.6" fill="#474c8d"><path d="M1063.1 923.8H1097.5"/><circle cx="1080.3" cy="923.8" r="7" stroke="none"/></g>
<g stroke="#8a2b22" stroke-width="3.6" fill="#8a2b22"><path d="M825.6 1041.6H860"/><circle cx="842.8" cy="1041.6" r="7" stroke="none"/></g>
<g stroke="#8a2b22" stroke-width="3.6" fill="#8a2b22"><path d="M889.4 1048.8H992.8"/><circle cx="941.1" cy="1048.8" r="7" stroke="none"/></g>
<g stroke="#8a2b22" stroke-width="3.6" fill="#8a2b22"><path d="M870.2 1052.7H904.6"/><circle cx="887.4" cy="1052.7" r="7" stroke="none"/></g>
<g stroke="#8a2b22" stroke-width="3.6" fill="#8a2b22"><path d="M1063.1 1039.7H1097.5"/><circle cx="1080.3" cy="1039.7" r="7" stroke="none"/></g>
<g stroke="#8a2b22" stroke-width="3.6" fill="#8a2b22"><path d="M958 1057.9H992.4"/><circle cx="975.2" cy="1057.9" r="7" stroke="none"/></g>
<g stroke="#8a2b22" stroke-width="3.6" fill="#8a2b22"><path d="M793.1 1070.6H827.5"/><circle cx="810.3" cy="1070.6" r="7" stroke="none"/></g>
<g stroke="#8a2b22" stroke-width="3.6" fill="#8a2b22"><path d="M820.4 1068.6H854.8"/><circle cx="837.6" cy="1068.6" r="7" stroke="none"/></g>
<g stroke="#8a2b22" stroke-width="3.6" fill="#8a2b22"><path d="M853.3 1075.5H905.3"/><circle cx="879.3" cy="1075.5" r="7" stroke="none"/></g>
<g stroke="#8a2b22" stroke-width="3.6" fill="#8a2b22"><path d="M780.8 1079.7H815.2"/><circle cx="798" cy="1079.7" r="7" stroke="none"/></g>
<g stroke="#8a2b22" stroke-width="3.6" fill="#8a2b22"><path d="M875.7 1079.7H910.1"/><circle cx="892.9" cy="1079.7" r="7" stroke="none"/></g>
<g stroke="#8a2b22" stroke-width="3.6" fill="#8a2b22"><path d="M970.4 1088.5H1004.8"/><circle cx="987.6" cy="1088.5" r="7" stroke="none"/></g>
<g stroke="#8a2b22" stroke-width="3.6" fill="#8a2b22"><path d="M820.4 1093.4H854.8"/><circle cx="837.6" cy="1093.4" r="7" stroke="none"/></g>
<g stroke="#8a2b22" stroke-width="3.6" fill="#8a2b22"><path d="M909.9 1099.9H944.3"/><circle cx="927.1" cy="1099.9" r="7" stroke="none"/></g>
<g stroke="#8a2b22" stroke-width="3.6" fill="#8a2b22"><path d="M787.9 1104.4H822.3"/><circle cx="805.1" cy="1104.4" r="7" stroke="none"/></g>
<g stroke="#8a2b22" stroke-width="3.6" fill="#8a2b22"><path d="M835.7 1106.4H870.1"/><circle cx="852.9" cy="1106.4" r="7" stroke="none"/></g>
<g stroke="#8a2b22" stroke-width="3.6" fill="#8a2b22"><path d="M810.7 1111.6H845.1"/><circle cx="827.9" cy="1111.6" r="7" stroke="none"/></g>
<g stroke="#8a2b22" stroke-width="3.6" fill="#8a2b22"><path d="M830.8 1114.8H865.2"/><circle cx="848" cy="1114.8" r="7" stroke="none"/></g>
<g stroke="#8a2b22" stroke-width="3.6" fill="#8a2b22"><path d="M865.3 1124.3H899.7"/><circle cx="882.5" cy="1124.3" r="7" stroke="none"/></g>
<g stroke="#8a2b22" stroke-width="3.6" fill="#8a2b22"><path d="M893 1131.4H927.4"/><circle cx="910.2" cy="1131.4" r="7" stroke="none"/></g>
<g stroke="#8a2b22" stroke-width="3.6" fill="#8a2b22"><path d="M880.6 1151.3H915"/><circle cx="897.8" cy="1151.3" r="7" stroke="none"/></g>
<g stroke="#8a2b22" stroke-width="3.6" fill="#8a2b22"><path d="M804.5 1158.4H856.5"/><circle cx="830.5" cy="1158.4" r="7" stroke="none"/></g>
<g stroke="#8a2b22" stroke-width="3.6" fill="#8a2b22"><path d="M830.8 1158.4H865.2"/><circle cx="848" cy="1158.4" r="7" stroke="none"/></g>
<g stroke="#8a2b22" stroke-width="3.6" fill="#8a2b22"><path d="M794.4 1162.3H828.8"/><circle cx="811.6" cy="1162.3" r="7" stroke="none"/></g>
<g stroke="#474c8d" stroke-width="3.6" fill="#474c8d"><path d="M1002.3 768.3H1032.3"/><circle cx="1017.3" cy="768.3" r="7" stroke="none"/></g>
<g stroke="#8a2b22" stroke-width="3.6" fill="#8a2b22"><path d="M1001.8 806H1031.8"/><circle cx="1016.8" cy="806" r="7" stroke="none"/></g>
<text x="1042.6" y="775.5" font-size="27" fill="#111" textLength="62" lengthAdjust="spacingAndGlyphs">ε + <tspan font-style="italic">U</tspan></text>
<text x="1042.6" y="812.9" font-size="27" text-anchor="start" fill="#111" >ε</text>
<text x="969.4" y="876.6" font-size="27" fill="#111" textLength="59" lengthAdjust="spacingAndGlyphs">ε = 0</text>
<text x="967.1" y="1141.5" font-size="27" fill="#111" textLength="74" lengthAdjust="spacingAndGlyphs">ε = −<tspan font-style="italic">U</tspan></text>
<line x1="700" y1="1271.5" x2="700" y2="1283.9" stroke="#0a0a0a" stroke-width="1.1" />
<text x="700" y="1313.9" font-size="23.8" text-anchor="middle" fill="#111" >0</text>
<line x1="786.08" y1="1271.5" x2="786.08" y2="1283.9" stroke="#0a0a0a" stroke-width="1.1" />
<text x="786.08" y="1313.9" font-size="23.8" text-anchor="middle" fill="#111" >5</text>
<line x1="872.16" y1="1271.5" x2="872.16" y2="1283.9" stroke="#0a0a0a" stroke-width="1.1" />
<text x="872.16" y="1313.9" font-size="23.8" text-anchor="middle" fill="#111" >10</text>
<line x1="958.24" y1="1271.5" x2="958.24" y2="1283.9" stroke="#0a0a0a" stroke-width="1.1" />
<text x="958.24" y="1313.9" font-size="23.8" text-anchor="middle" fill="#111" >15</text>
<line x1="1044.32" y1="1271.5" x2="1044.32" y2="1283.9" stroke="#0a0a0a" stroke-width="1.1" />
<text x="1044.32" y="1313.9" font-size="23.8" text-anchor="middle" fill="#111" >20</text>
<line x1="1130.4" y1="1271.5" x2="1130.4" y2="1283.9" stroke="#0a0a0a" stroke-width="1.1" />
<text x="1130.4" y="1313.9" font-size="23.8" text-anchor="middle" fill="#111" >25</text>
<line x1="688.8" y1="1271.5" x2="700" y2="1271.5" stroke="#0a0a0a" stroke-width="1.1" />
<text x="677" y="1280" font-size="23.8" text-anchor="end" fill="#111" >−120</text>
<line x1="688.8" y1="1137.25" x2="700" y2="1137.25" stroke="#0a0a0a" stroke-width="1.1" />
<text x="677" y="1145.75" font-size="23.8" text-anchor="end" fill="#111" >−60</text>
<line x1="688.8" y1="1003" x2="700" y2="1003" stroke="#0a0a0a" stroke-width="1.1" />
<text x="677" y="1011.5" font-size="23.8" text-anchor="end" fill="#111" >0</text>
<line x1="688.8" y1="868.75" x2="700" y2="868.75" stroke="#0a0a0a" stroke-width="1.1" />
<text x="677" y="877.25" font-size="23.8" text-anchor="end" fill="#111" >60</text>
<line x1="688.8" y1="734.5" x2="700" y2="734.5" stroke="#0a0a0a" stroke-width="1.1" />
<text x="677" y="743" font-size="23.8" text-anchor="end" fill="#111" >120</text>
<text x="915.2" y="1353.9" font-size="27" text-anchor="middle" fill="#111" textLength="78" lengthAdjust="spacingAndGlyphs"><tspan font-style="italic">L</tspan> (nm)</text>
<text transform="translate(607.8,1002.5) rotate(-90)" font-size="27" text-anchor="middle" fill="#111" textLength="118" lengthAdjust="spacingAndGlyphs">Bias (mV)</text>
<text transform="translate(585.3,731.6) scale(1.08,1)" font-size="38" font-weight="bold" fill="#000" stroke="#000" stroke-width="0.8" stroke-linejoin="round">c</text>
<rect x="1268.3" y="36" width="430" height="534.3" fill="#fef1ba"/>
<rect x="1268.3" y="533" width="430" height="37.3" fill="url(#gd)"/>
<rect x="1268.3" y="36" width="430" height="534.3" fill="none" stroke="#0a0a0a" stroke-width="1.1"/>
<g stroke="#1f77b4" stroke-width="3.4" fill="#1f77b4"><path d="M1443.9 120H1478.5M1461.2 77.6V161.8"/><circle cx="1461.2" cy="120" r="7.2" stroke="none"/></g>
<g stroke="#1f77b4" stroke-width="3.4" fill="#1f77b4"><path d="M1350.2 133H1384.8M1367.5 107V158.5"/><circle cx="1367.5" cy="133" r="7.2" stroke="none"/></g>
<g stroke="#1f77b4" stroke-width="3.4" fill="#1f77b4"><path d="M1356.8 136.4H1391.4M1374.1 116.3V159.9"/><circle cx="1374.1" cy="136.4" r="7.2" stroke="none"/></g>
<g stroke="#1f77b4" stroke-width="3.4" fill="#1f77b4"><path d="M1361.9 134.2H1396.5M1379.2 102.6V165.8"/><circle cx="1379.2" cy="134.2" r="7.2" stroke="none"/></g>
<g stroke="#1f77b4" stroke-width="3.4" fill="#1f77b4"><path d="M1399.7 166.2H1434.3M1417 139.4V194"/><circle cx="1417" cy="166.2" r="7.2" stroke="none"/></g>
<g stroke="#1f77b4" stroke-width="3.4" fill="#1f77b4"><path d="M1373.9 175.8H1425.7M1399.8 150.4V201"/><circle cx="1399.8" cy="175.8" r="7.2" stroke="none"/></g>
<g stroke="#1f77b4" stroke-width="3.4" fill="#1f77b4"><path d="M1363.7 202.2H1398.3M1381 181.7V222.7"/><circle cx="1381" cy="202.2" r="7.2" stroke="none"/></g>
<g stroke="#1f77b4" stroke-width="3.4" fill="#1f77b4"><path d="M1379.1 201.1H1413.7M1396.4 182V224.5"/><circle cx="1396.4" cy="201.1" r="7.2" stroke="none"/></g>
<g stroke="#1f77b4" stroke-width="3.4" fill="#1f77b4"><path d="M1394.3 203.3H1428.9M1411.6 183.9V223.8"/><circle cx="1411.6" cy="203.3" r="7.2" stroke="none"/></g>
<g stroke="#1f77b4" stroke-width="3.4" fill="#1f77b4"><path d="M1389.3 230.2H1423.9M1406.6 208V252"/><circle cx="1406.6" cy="230.2" r="7.2" stroke="none"/></g>
<g stroke="#1f77b4" stroke-width="3.4" fill="#1f77b4"><path d="M1389.3 271.2H1423.9M1406.6 252V290.1"/><circle cx="1406.6" cy="271.2" r="7.2" stroke="none"/></g>
<g stroke="#1f77b4" stroke-width="3.4" fill="#1f77b4"><path d="M1449.2 239.5H1483.8M1466.5 217.4V261.3"/><circle cx="1466.5" cy="239.5" r="7.2" stroke="none"/></g>
<g stroke="#1f77b4" stroke-width="3.4" fill="#1f77b4"><path d="M1461 247.3H1495.6M1478.3 227.1V267.9"/><circle cx="1478.3" cy="247.3" r="7.2" stroke="none"/></g>
<g stroke="#1f77b4" stroke-width="3.4" fill="#1f77b4"><path d="M1399.7 299.3H1434.3M1417 287.4V311.7"/><circle cx="1417" cy="299.3" r="7.2" stroke="none"/></g>
<g stroke="#1f77b4" stroke-width="3.4" fill="#1f77b4"><path d="M1433.8 308H1468.4M1451.1 291.1V323"/><circle cx="1451.1" cy="308" r="7.2" stroke="none"/></g>
<g stroke="#1f77b4" stroke-width="3.4" fill="#1f77b4"><path d="M1439 328.5H1473.6M1456.3 317.2V340.3"/><circle cx="1456.3" cy="328.5" r="7.2" stroke="none"/></g>
<g stroke="#1f77b4" stroke-width="3.4" fill="#1f77b4"><path d="M1404.8 330.6H1439.4M1422.1 317.9V343.6"/><circle cx="1422.1" cy="330.6" r="7.2" stroke="none"/></g>
<g stroke="#1f77b4" stroke-width="3.4" fill="#1f77b4"><path d="M1458 355.5H1560.6M1509.3 339.2V371.7"/><circle cx="1509.3" cy="355.5" r="7.2" stroke="none"/></g>
<g stroke="#1f77b4" stroke-width="3.4" fill="#1f77b4"><path d="M1526.2 367H1560.8M1543.5 348.5V385.7"/><circle cx="1543.5" cy="367" r="7.2" stroke="none"/></g>
<g stroke="#1f77b4" stroke-width="3.4" fill="#1f77b4"><path d="M1478 375.2H1512.6M1495.3 363.1V387.6"/><circle cx="1495.3" cy="375.2" r="7.2" stroke="none"/></g>
<g stroke="#1f77b4" stroke-width="3.4" fill="#1f77b4"><path d="M1422.1 401.2H1473.5M1447.8 390.9V411.2"/><circle cx="1447.8" cy="401.2" r="7.2" stroke="none"/></g>
<g stroke="#1f77b4" stroke-width="3.4" fill="#1f77b4"><path d="M1537.9 435.9H1572.5"/><circle cx="1555.2" cy="435.9" r="7.2" stroke="none"/></g>
<g stroke="#1f77b4" stroke-width="3.4" fill="#1f77b4"><path d="M1630.2 445.2H1664.8"/><circle cx="1647.5" cy="445.2" r="7.2" stroke="none"/></g>
<text x="1497.7" y="62.2" font-size="27" text-anchor="middle" fill="#111" textLength="247" lengthAdjust="spacingAndGlyphs" >Strong correlations</text>
<text x="1495" y="561.9" font-size="27" text-anchor="middle" fill="#111" textLength="228.2" lengthAdjust="spacingAndGlyphs" >Weak correlations</text>
<line x1="1268.3" y1="570.3" x2="1268.3" y2="582.7" stroke="#0a0a0a" stroke-width="1.1" />
<text x="1268.3" y="611.5" font-size="23.8" text-anchor="middle" fill="#111" >0</text>
<line x1="1354.3" y1="570.3" x2="1354.3" y2="582.7" stroke="#0a0a0a" stroke-width="1.1" />
<text x="1354.3" y="611.5" font-size="23.8" text-anchor="middle" fill="#111" >5</text>
<line x1="1440.3" y1="570.3" x2="1440.3" y2="582.7" stroke="#0a0a0a" stroke-width="1.1" />
<text x="1440.3" y="611.5" font-size="23.8" text-anchor="middle" fill="#111" >10</text>
<line x1="1526.3" y1="570.3" x2="1526.3" y2="582.7" stroke="#0a0a0a" stroke-width="1.1" />
<text x="1526.3" y="611.5" font-size="23.8" text-anchor="middle" fill="#111" >15</text>
<line x1="1612.3" y1="570.3" x2="1612.3" y2="582.7" stroke="#0a0a0a" stroke-width="1.1" />
<text x="1612.3" y="611.5" font-size="23.8" text-anchor="middle" fill="#111" >20</text>
<line x1="1698.3" y1="570.3" x2="1698.3" y2="582.7" stroke="#0a0a0a" stroke-width="1.1" />
<text x="1698.3" y="611.5" font-size="23.8" text-anchor="middle" fill="#111" >25</text>
<line x1="1257.1" y1="570.3" x2="1268.3" y2="570.3" stroke="#0a0a0a" stroke-width="1.1" />
<text x="1246" y="578.8" font-size="23.8" text-anchor="end" fill="#111" >0</text>
<line x1="1257.1" y1="436.72" x2="1268.3" y2="436.72" stroke="#0a0a0a" stroke-width="1.1" />
<text x="1246" y="445.22" font-size="23.8" text-anchor="end" fill="#111" >3</text>
<line x1="1257.1" y1="303.15" x2="1268.3" y2="303.15" stroke="#0a0a0a" stroke-width="1.1" />
<text x="1246" y="311.65" font-size="23.8" text-anchor="end" fill="#111" >6</text>
<line x1="1257.1" y1="169.57" x2="1268.3" y2="169.57" stroke="#0a0a0a" stroke-width="1.1" />
<text x="1246" y="178.07" font-size="23.8" text-anchor="end" fill="#111" >9</text>
<line x1="1257.1" y1="36" x2="1268.3" y2="36" stroke="#0a0a0a" stroke-width="1.1" />
<text x="1246" y="44.5" font-size="23.8" text-anchor="end" fill="#111" >12</text>
<text x="1483.3" y="651.7" font-size="27" text-anchor="middle" fill="#111" textLength="79.5" lengthAdjust="spacingAndGlyphs"><tspan font-style="italic">L</tspan> (nm)</text>
<text transform="translate(1203.7,304) rotate(-90)" font-size="27" text-anchor="middle" fill="#111" textLength="44" lengthAdjust="spacingAndGlyphs" font-style="italic">U/γ</text>
<text transform="translate(1170,32.4) scale(1.08,1)" font-size="38" font-weight="bold" fill="#000" stroke="#000" stroke-width="0.8" stroke-linejoin="round">d</text>
<rect x="1267.5" y="733.4" width="430.3" height="538.1" fill="#fef4cc"/>
<rect x="1267.5" y="1250.5" width="430.3" height="21" fill="#c6c7d1"/>
<rect x="1267.5" y="733.4" width="430.3" height="538.1" fill="none" stroke="#0a0a0a" stroke-width="1.1"/>
<g stroke="#8a2b22" stroke-width="3.4" fill="#8a2b22"><path d="M1372 869H1423.8M1397.9 846.1V891.6"/><circle cx="1397.9" cy="869" r="7.2" stroke="none"/></g>
<g stroke="#8a2b22" stroke-width="3.4" fill="#8a2b22"><path d="M1447.7 879.3H1482.1M1464.9 857.9V900.8"/><circle cx="1464.9" cy="879.3" r="7.2" stroke="none"/></g>
<g stroke="#8a2b22" stroke-width="3.4" fill="#8a2b22"><path d="M1361.8 913.1H1396.2M1379 894.6V931.3"/><circle cx="1379" cy="913.1" r="7.2" stroke="none"/></g>
<g stroke="#8a2b22" stroke-width="3.4" fill="#8a2b22"><path d="M1459.7 951.9H1494.1M1476.9 933.7V970.8"/><circle cx="1476.9" cy="951.9" r="7.2" stroke="none"/></g>
<g stroke="#8a2b22" stroke-width="3.4" fill="#8a2b22"><path d="M1431.8 966H1466.2M1449 949.3V983.6"/><circle cx="1449" cy="966" r="7.2" stroke="none"/></g>
<g stroke="#8a2b22" stroke-width="3.4" fill="#8a2b22"><path d="M1442.8 978.5H1477.2M1460 943.1V1013.5"/><circle cx="1460" cy="978.5" r="7.2" stroke="none"/></g>
<g stroke="#8a2b22" stroke-width="3.4" fill="#8a2b22"><path d="M1377.2 985.6H1411.6M1394.4 965V1006.6"/><circle cx="1394.4" cy="985.6" r="7.2" stroke="none"/></g>
<g stroke="#8a2b22" stroke-width="3.4" fill="#8a2b22"><path d="M1397.6 1000H1432M1414.8 989V1011.4"/><circle cx="1414.8" cy="1000" r="7.2" stroke="none"/></g>
<g stroke="#8a2b22" stroke-width="3.4" fill="#8a2b22"><path d="M1389 1045.3H1423.4M1406.2 1038.5V1052"/><circle cx="1406.2" cy="1045.3" r="7.2" stroke="none"/></g>
<g stroke="#8a2b22" stroke-width="3.4" fill="#8a2b22"><path d="M1402.7 1060.4H1437.1M1419.9 1048.4V1072.6"/><circle cx="1419.9" cy="1060.4" r="7.2" stroke="none"/></g>
<g stroke="#8a2b22" stroke-width="3.4" fill="#8a2b22"><path d="M1354.2 1060.8H1388.6M1371.4 1041.4V1079.3"/><circle cx="1371.4" cy="1060.8" r="7.2" stroke="none"/></g>
<g stroke="#8a2b22" stroke-width="3.4" fill="#8a2b22"><path d="M1360.1 1071.4H1394.5M1377.3 1043.5V1098.7"/><circle cx="1377.3" cy="1071.4" r="7.2" stroke="none"/></g>
<g stroke="#8a2b22" stroke-width="3.4" fill="#8a2b22"><path d="M1348.1 1086.4H1382.5M1365.3 1063.4V1109.6"/><circle cx="1365.3" cy="1086.4" r="7.2" stroke="none"/></g>
<g stroke="#8a2b22" stroke-width="3.4" fill="#8a2b22"><path d="M1476.8 1056.7H1511.2M1494 1044V1069.6"/><circle cx="1494" cy="1056.7" r="7.2" stroke="none"/></g>
<g stroke="#8a2b22" stroke-width="3.4" fill="#8a2b22"><path d="M1524.8 1091.3H1559.2M1542 1073.1V1109.6"/><circle cx="1542" cy="1091.3" r="7.2" stroke="none"/></g>
<g stroke="#8a2b22" stroke-width="3.4" fill="#8a2b22"><path d="M1536.7 1110.7H1571.1M1553.9 1101.3V1120.7"/><circle cx="1553.9" cy="1110.7" r="7.2" stroke="none"/></g>
<g stroke="#8a2b22" stroke-width="3.4" fill="#8a2b22"><path d="M1387.7 1106.6H1422.1M1404.9 1087.2V1126"/><circle cx="1404.9" cy="1106.6" r="7.2" stroke="none"/></g>
<g stroke="#8a2b22" stroke-width="3.4" fill="#8a2b22"><path d="M1420.2 1125.2H1471.6M1445.9 1113.3V1137.1"/><circle cx="1445.9" cy="1125.2" r="7.2" stroke="none"/></g>
<g stroke="#8a2b22" stroke-width="3.4" fill="#8a2b22"><path d="M1456.2 1146H1559M1507.6 1129.9V1162.2"/><circle cx="1507.6" cy="1146" r="7.2" stroke="none"/></g>
<g stroke="#8a2b22" stroke-width="3.4" fill="#8a2b22"><path d="M1393 1186.1H1427.4M1410.2 1166.1V1206.7"/><circle cx="1410.2" cy="1186.1" r="7.2" stroke="none"/></g>
<g stroke="#8a2b22" stroke-width="3.4" fill="#8a2b22"><path d="M1437.5 1180.2H1471.9M1454.7 1167.9V1192.6"/><circle cx="1454.7" cy="1180.2" r="7.2" stroke="none"/></g>
<g stroke="#8a2b22" stroke-width="3.4" fill="#8a2b22"><path d="M1629.5 1212.1H1663.9"/><circle cx="1646.7" cy="1212.1" r="7.2" stroke="none"/></g>
<g stroke="#474c8d" stroke-width="3.4" fill="#474c8d"><path d="M1347.7 795.5H1382.1M1364.9 772.4V818.4"/><circle cx="1364.9" cy="795.5" r="7.2" stroke="none"/></g>
<g stroke="#474c8d" stroke-width="3.4" fill="#474c8d"><path d="M1359.5 813H1393.9M1376.7 785.3V840.8"/><circle cx="1376.7" cy="813" r="7.2" stroke="none"/></g>
<g stroke="#474c8d" stroke-width="3.4" fill="#474c8d"><path d="M1354.8 824.1H1389.2M1372 804.7V843.5"/><circle cx="1372" cy="824.1" r="7.2" stroke="none"/></g>
<g stroke="#474c8d" stroke-width="3.4" fill="#474c8d"><path d="M1392.5 792.8H1426.9M1409.7 772.9V813.1"/><circle cx="1409.7" cy="792.8" r="7.2" stroke="none"/></g>
<g stroke="#474c8d" stroke-width="3.4" fill="#474c8d"><path d="M1442.1 884H1476.5M1459.3 849.3V918.9"/><circle cx="1459.3" cy="884" r="7.2" stroke="none"/></g>
<g stroke="#474c8d" stroke-width="3.4" fill="#474c8d"><path d="M1387.2 926.7H1421.6M1404.4 907.5V946.1"/><circle cx="1404.4" cy="926.7" r="7.2" stroke="none"/></g>
<g stroke="#474c8d" stroke-width="3.4" fill="#474c8d"><path d="M1397.6 959.8H1432M1414.8 936.4V983.6"/><circle cx="1414.8" cy="959.8" r="7.2" stroke="none"/></g>
<g stroke="#474c8d" stroke-width="3.4" fill="#474c8d"><path d="M1437.1 971.7H1471.5M1454.3 959.8V984.2"/><circle cx="1454.3" cy="971.7" r="7.2" stroke="none"/></g>
<g stroke="#474c8d" stroke-width="3.4" fill="#474c8d"><path d="M1377.2 997.3H1411.6M1394.4 976.1V1018.1"/><circle cx="1394.4" cy="997.3" r="7.2" stroke="none"/></g>
<g stroke="#474c8d" stroke-width="3.4" fill="#474c8d"><path d="M1387.2 1033.1H1421.6M1404.4 1016.2V1050.7"/><circle cx="1404.4" cy="1033.1" r="7.2" stroke="none"/></g>
<g stroke="#474c8d" stroke-width="3.4" fill="#474c8d"><path d="M1372.5 1060.4H1423.3M1397.9 1037.9V1082.5"/><circle cx="1397.9" cy="1060.4" r="7.2" stroke="none"/></g>
<g stroke="#474c8d" stroke-width="3.4" fill="#474c8d"><path d="M1361.6 1068.4H1396M1378.8 1050.2V1086.4"/><circle cx="1378.8" cy="1068.4" r="7.2" stroke="none"/></g>
<g stroke="#474c8d" stroke-width="3.4" fill="#474c8d"><path d="M1420.3 1079.7H1471.5M1445.9 1067.3V1091.6"/><circle cx="1445.9" cy="1079.7" r="7.2" stroke="none"/></g>
<g stroke="#474c8d" stroke-width="3.4" fill="#474c8d"><path d="M1456.2 1071H1559M1507.6 1055.5V1087.2"/><circle cx="1507.6" cy="1071" r="7.2" stroke="none"/></g>
<g stroke="#474c8d" stroke-width="3.4" fill="#474c8d"><path d="M1459.5 1096.4H1493.9M1476.7 1078.1V1114.6"/><circle cx="1476.7" cy="1096.4" r="7.2" stroke="none"/></g>
<g stroke="#474c8d" stroke-width="3.4" fill="#474c8d"><path d="M1524.8 1142.8H1559.2M1542 1123.7V1161.8"/><circle cx="1542" cy="1142.8" r="7.2" stroke="none"/></g>
<g stroke="#474c8d" stroke-width="3.4" fill="#474c8d"><path d="M1402.7 1155.1H1437.1M1419.9 1143.1V1167.1"/><circle cx="1419.9" cy="1155.1" r="7.2" stroke="none"/></g>
<g stroke="#474c8d" stroke-width="3.4" fill="#474c8d"><path d="M1397.6 1159.5H1432M1414.8 1148.6V1170.6"/><circle cx="1414.8" cy="1159.5" r="7.2" stroke="none"/></g>
<g stroke="#474c8d" stroke-width="3.4" fill="#474c8d"><path d="M1447.3 1162.3H1481.7M1464.5 1140.9V1186.1"/><circle cx="1464.5" cy="1162.3" r="7.2" stroke="none"/></g>
<g stroke="#474c8d" stroke-width="3.4" fill="#474c8d"><path d="M1431.8 1184.3H1466.2M1449 1167.4V1201.9"/><circle cx="1449" cy="1184.3" r="7.2" stroke="none"/></g>
<g stroke="#474c8d" stroke-width="3.4" fill="#474c8d"><path d="M1476.8 1189.9H1511.2M1494 1177.1V1202.6"/><circle cx="1494" cy="1189.9" r="7.2" stroke="none"/></g>
<g stroke="#474c8d" stroke-width="3.4" fill="#474c8d"><path d="M1536.7 1214.4H1571.1M1553.9 1204.9V1224.3"/><circle cx="1553.9" cy="1214.4" r="7.2" stroke="none"/></g>
<g stroke="#474c8d" stroke-width="3.4" fill="#474c8d"><path d="M1629.5 1139.5H1663.9"/><circle cx="1646.7" cy="1139.5" r="7.2" stroke="none"/></g>
<g stroke="#474c8d" stroke-width="3.4" fill="#474c8d"><path d="M1548.9 768.1H1578.3"/><circle cx="1563.6" cy="768.1" r="7.2" stroke="none"/></g>
<g stroke="#8a2b22" stroke-width="3.4" fill="#8a2b22"><path d="M1548.2 806.7H1577.6"/><circle cx="1562.9" cy="806.7" r="7.2" stroke="none"/></g>
<text x="1590.5" y="775.4" font-size="27" fill="#111" textLength="62" lengthAdjust="spacingAndGlyphs">ε + <tspan font-style="italic">U</tspan></text>
<text x="1590.5" y="813.8" font-size="27" text-anchor="start" fill="#111" >ε</text>
<text x="1521.3" y="898.5" font-size="23" text-anchor="start" fill="#111" textLength="153" lengthAdjust="spacingAndGlyphs" >Kondo regime</text>
<text x="1291.5" y="1220.8" font-size="23" text-anchor="start" fill="#111" textLength="241" lengthAdjust="spacingAndGlyphs" >Mixed-valence regime</text>
<path d="M1398.8 1235.4H1417.6L1408.2 1251.3Z" fill="#000"/>
<line x1="1267.5" y1="1271.5" x2="1267.5" y2="1283.9" stroke="#0a0a0a" stroke-width="1.1" />
<text x="1267.5" y="1313.9" font-size="23.8" text-anchor="middle" fill="#111" >0</text>
<line x1="1352.5" y1="1271.5" x2="1352.5" y2="1283.9" stroke="#0a0a0a" stroke-width="1.1" />
<text x="1352.5" y="1313.9" font-size="23.8" text-anchor="middle" fill="#111" >5</text>
<line x1="1438.45" y1="1271.5" x2="1438.45" y2="1283.9" stroke="#0a0a0a" stroke-width="1.1" />
<text x="1438.45" y="1313.9" font-size="23.8" text-anchor="middle" fill="#111" >10</text>
<line x1="1524.4" y1="1271.5" x2="1524.4" y2="1283.9" stroke="#0a0a0a" stroke-width="1.1" />
<text x="1524.4" y="1313.9" font-size="23.8" text-anchor="middle" fill="#111" >15</text>
<line x1="1610.6" y1="1271.5" x2="1610.6" y2="1283.9" stroke="#0a0a0a" stroke-width="1.1" />
<text x="1610.6" y="1313.9" font-size="23.8" text-anchor="middle" fill="#111" >20</text>
<line x1="1697.8" y1="1271.5" x2="1697.8" y2="1283.9" stroke="#0a0a0a" stroke-width="1.1" />
<text x="1697.8" y="1313.9" font-size="23.8" text-anchor="middle" fill="#111" >25</text>
<line x1="1256.3" y1="1136.97" x2="1267.5" y2="1136.97" stroke="#0a0a0a" stroke-width="1.1" />
<text x="1246" y="1145.47" font-size="23.8" text-anchor="end" fill="#8a2b22" >−2</text>
<line x1="1256.3" y1="1002.45" x2="1267.5" y2="1002.45" stroke="#0a0a0a" stroke-width="1.1" />
<text x="1246" y="1010.95" font-size="23.8" text-anchor="end" fill="#8a2b22" >−4</text>
<line x1="1256.3" y1="867.92" x2="1267.5" y2="867.92" stroke="#0a0a0a" stroke-width="1.1" />
<text x="1246" y="876.42" font-size="23.8" text-anchor="end" fill="#8a2b22" >−6</text>
<line x1="1256.3" y1="733.4" x2="1267.5" y2="733.4" stroke="#0a0a0a" stroke-width="1.1" />
<text x="1246" y="741.9" font-size="23.8" text-anchor="end" fill="#8a2b22" >−8</text>
<line x1="1256.3" y1="1271.5" x2="1267.5" y2="1271.5" stroke="#0a0a0a" stroke-width="1.1" />
<text x="1246" y="1280" font-size="23.8" text-anchor="end" fill="#111" >0</text>
<line x1="1697.8" y1="1271.5" x2="1709" y2="1271.5" stroke="#0a0a0a" stroke-width="1.1" />
<text x="1721" y="1280" font-size="23.8" text-anchor="start" fill="#474c8d" >0</text>
<line x1="1697.8" y1="1136.97" x2="1709" y2="1136.97" stroke="#0a0a0a" stroke-width="1.1" />
<text x="1721" y="1145.47" font-size="23.8" text-anchor="start" fill="#474c8d" >2</text>
<line x1="1697.8" y1="1002.45" x2="1709" y2="1002.45" stroke="#0a0a0a" stroke-width="1.1" />
<text x="1721" y="1010.95" font-size="23.8" text-anchor="start" fill="#474c8d" >4</text>
<line x1="1697.8" y1="867.92" x2="1709" y2="867.92" stroke="#0a0a0a" stroke-width="1.1" />
<text x="1721" y="876.42" font-size="23.8" text-anchor="start" fill="#474c8d" >6</text>
<line x1="1697.8" y1="733.4" x2="1709" y2="733.4" stroke="#0a0a0a" stroke-width="1.1" />
<text x="1721" y="741.9" font-size="23.8" text-anchor="start" fill="#474c8d" >8</text>
<text x="1482.65" y="1353.9" font-size="27" text-anchor="middle" fill="#111" textLength="79.5" lengthAdjust="spacingAndGlyphs"><tspan font-style="italic">L</tspan> (nm)</text>
<text transform="translate(1204,1001.5) rotate(-90)" font-size="27" text-anchor="middle" fill="#8a2b22" textLength="42" lengthAdjust="spacingAndGlyphs">ε/<tspan font-style="italic">γ</tspan></text>
<text transform="translate(1759.5,1002.5) rotate(90)" font-size="27" text-anchor="middle" fill="#474c8d" textLength="105.5" lengthAdjust="spacingAndGlyphs">(ε + <tspan font-style="italic">U</tspan>)/<tspan font-style="italic">γ</tspan></text>
<text transform="translate(1170,731.6) scale(1.08,1)" font-size="38" font-weight="bold" fill="#000" stroke="#000" stroke-width="0.8" stroke-linejoin="round">e</text>
</svg></body></html>
